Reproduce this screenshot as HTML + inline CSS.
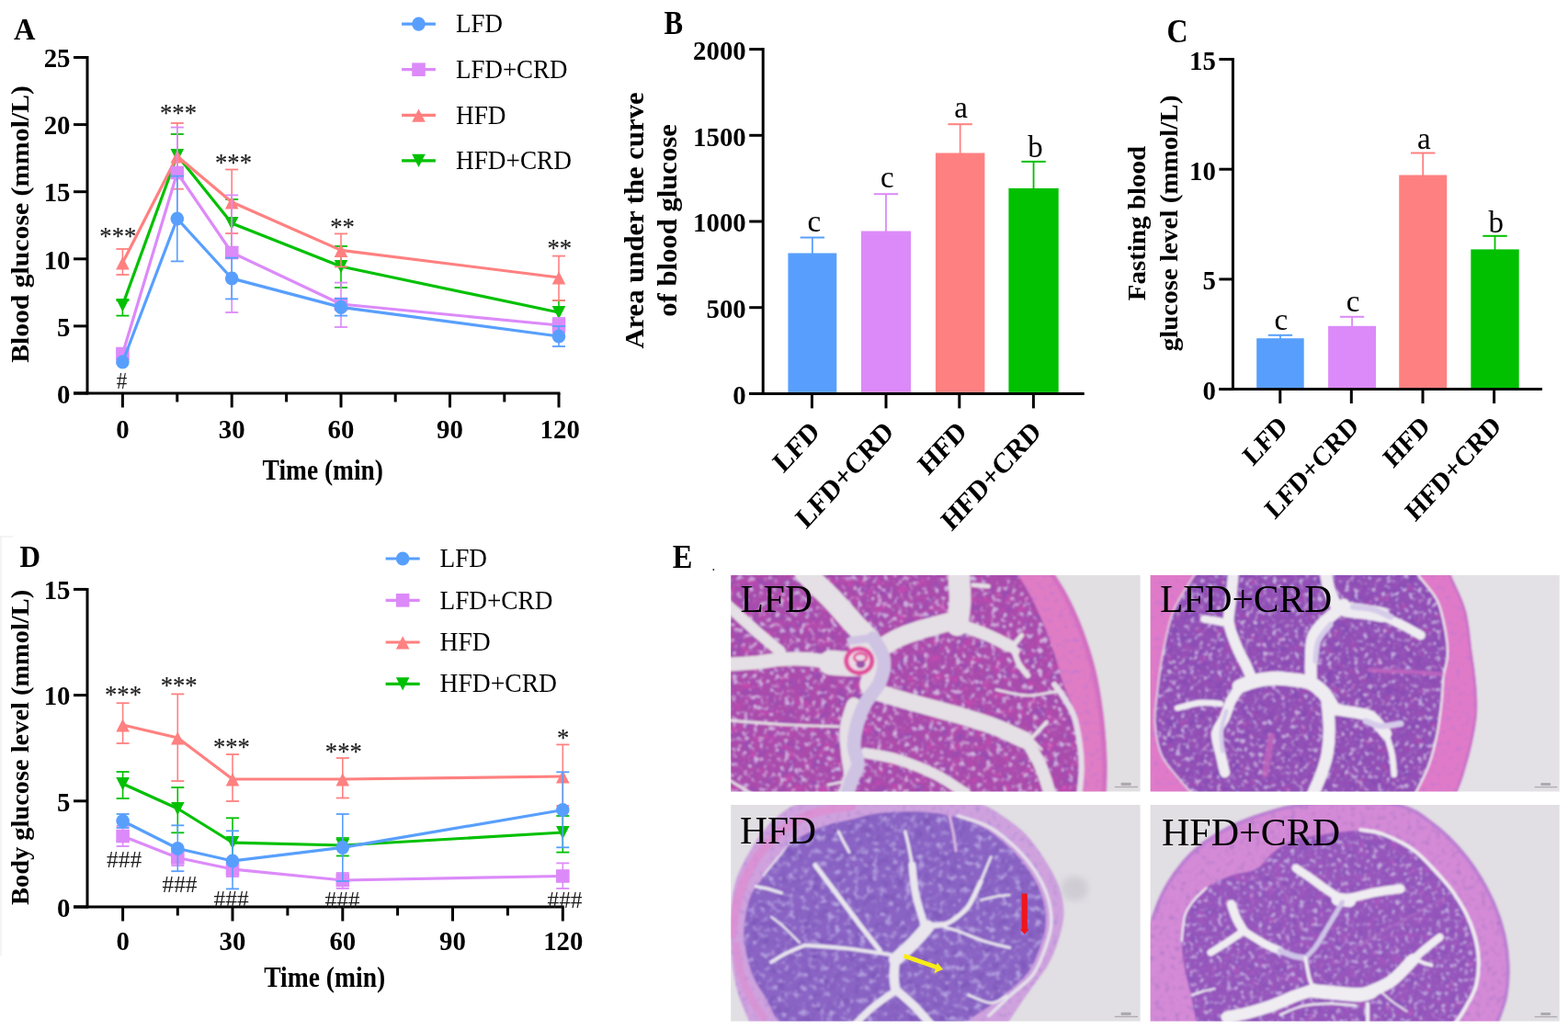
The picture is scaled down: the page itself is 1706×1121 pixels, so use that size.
<!DOCTYPE html>
<html lang="en"><head><meta charset="utf-8"><title>Figure</title>
<style>
html,body{margin:0;padding:0;background:#fff;}
body{width:1706px;height:1121px;overflow:hidden;}
svg{display:block;font-family:"Liberation Serif","Times New Roman",serif;}
</style></head><body>
<svg width="1706" height="1121" viewBox="0 0 1706 1121">
<rect width="1706" height="1121" fill="#fff"/>
<defs>
<filter id="soft" x="-2%" y="-2%" width="104%" height="104%"><feGaussianBlur stdDeviation="3.2"/></filter>
<filter id="soft1"><feGaussianBlur stdDeviation="1.6"/></filter>
<filter id="blur8"><feGaussianBlur stdDeviation="14"/></filter>
<filter id="tex1" x="0" y="0" width="100%" height="100%" color-interpolation-filters="sRGB"><feTurbulence type="fractalNoise" baseFrequency="0.05 0.05" numOctaves="2" seed="3" result="n"/><feColorMatrix in="n" type="matrix" values="0 0 0 0 0.824  0 0 0 0 0.714  0 0 0 0 0.886  5 0 0 0 -2.75" result="sp"/><feComposite in="sp" in2="SourceAlpha" operator="in" result="sp2"/><feTurbulence type="fractalNoise" baseFrequency="0.03" numOctaves="2" seed="8" result="n2"/><feColorMatrix in="n2" type="matrix" values="0 0 0 0 0.557  0 0 0 0 0.298  0 0 0 0 0.706  0 2.5 0 0 -1.25" result="dk"/><feComposite in="dk" in2="SourceAlpha" operator="in" result="dk2"/><feColorMatrix in="n2" type="matrix" values="0 0 0 0 0.808  0 0 0 0 0.282  0 0 0 0 0.690  0 0 3 0 -1.65" result="pk"/><feComposite in="pk" in2="SourceAlpha" operator="in" result="pk2"/><feMerge><feMergeNode in="SourceGraphic"/><feMergeNode in="dk2"/><feMergeNode in="pk2"/><feMergeNode in="sp2"/></feMerge></filter>
<filter id="texp" x="0" y="0" width="100%" height="100%" color-interpolation-filters="sRGB"><feTurbulence type="fractalNoise" baseFrequency="0.05 0.05" numOctaves="2" seed="5" result="n"/><feColorMatrix in="n" type="matrix" values="0 0 0 0 0.784  0 0 0 0 0.471  0 0 0 0 0.816  4 0 0 0 -2.2" result="sp"/><feComposite in="sp" in2="SourceAlpha" operator="in" result="sp2"/><feMerge><feMergeNode in="SourceGraphic"/><feMergeNode in="sp2"/></feMerge></filter>
<filter id="tex2" x="0" y="0" width="100%" height="100%" color-interpolation-filters="sRGB"><feTurbulence type="fractalNoise" baseFrequency="0.055 0.055" numOctaves="2" seed="7" result="n"/><feColorMatrix in="n" type="matrix" values="0 0 0 0 0.800  0 0 0 0 0.714  0 0 0 0 0.894  5 0 0 0 -2.8" result="sp"/><feComposite in="sp" in2="SourceAlpha" operator="in" result="sp2"/><feTurbulence type="fractalNoise" baseFrequency="0.03" numOctaves="2" seed="12" result="n2"/><feColorMatrix in="n2" type="matrix" values="0 0 0 0 0.494  0 0 0 0 0.282  0 0 0 0 0.706  0 2.5 0 0 -1.25" result="dk"/><feComposite in="dk" in2="SourceAlpha" operator="in" result="dk2"/><feColorMatrix in="n2" type="matrix" values="0 0 0 0 0.722  0 0 0 0 0.298  0 0 0 0 0.690  0 0 3 0 -1.8" result="pk"/><feComposite in="pk" in2="SourceAlpha" operator="in" result="pk2"/><feMerge><feMergeNode in="SourceGraphic"/><feMergeNode in="dk2"/><feMergeNode in="pk2"/><feMergeNode in="sp2"/></feMerge></filter>
<filter id="tex3" x="0" y="0" width="100%" height="100%" color-interpolation-filters="sRGB"><feTurbulence type="fractalNoise" baseFrequency="0.04 0.04" numOctaves="2" seed="11" result="n"/><feColorMatrix in="n" type="matrix" values="0 0 0 0 0.706  0 0 0 0 0.627  0 0 0 0 0.878  4 0 0 0 -2.12" result="sp"/><feComposite in="sp" in2="SourceAlpha" operator="in" result="sp2"/><feTurbulence type="fractalNoise" baseFrequency="0.03" numOctaves="2" seed="16" result="n2"/><feColorMatrix in="n2" type="matrix" values="0 0 0 0 0.471  0 0 0 0 0.314  0 0 0 0 0.714  0 2.2 0 0 -1.1" result="dk"/><feComposite in="dk" in2="SourceAlpha" operator="in" result="dk2"/><feMerge><feMergeNode in="SourceGraphic"/><feMergeNode in="dk2"/><feMergeNode in="sp2"/></feMerge></filter>
<filter id="texr3" x="0" y="0" width="100%" height="100%" color-interpolation-filters="sRGB"><feTurbulence type="fractalNoise" baseFrequency="0.05 0.05" numOctaves="2" seed="13" result="n"/><feColorMatrix in="n" type="matrix" values="0 0 0 0 0.722  0 0 0 0 0.565  0 0 0 0 0.847  4 0 0 0 -2.2" result="sp"/><feComposite in="sp" in2="SourceAlpha" operator="in" result="sp2"/><feMerge><feMergeNode in="SourceGraphic"/><feMergeNode in="sp2"/></feMerge></filter>
<filter id="tex4" x="0" y="0" width="100%" height="100%" color-interpolation-filters="sRGB"><feTurbulence type="fractalNoise" baseFrequency="0.055 0.055" numOctaves="2" seed="17" result="n"/><feColorMatrix in="n" type="matrix" values="0 0 0 0 0.769  0 0 0 0 0.682  0 0 0 0 0.886  5 0 0 0 -2.8" result="sp"/><feComposite in="sp" in2="SourceAlpha" operator="in" result="sp2"/><feTurbulence type="fractalNoise" baseFrequency="0.03" numOctaves="2" seed="22" result="n2"/><feColorMatrix in="n2" type="matrix" values="0 0 0 0 0.525  0 0 0 0 0.314  0 0 0 0 0.722  0 2.5 0 0 -1.25" result="dk"/><feComposite in="dk" in2="SourceAlpha" operator="in" result="dk2"/><feColorMatrix in="n2" type="matrix" values="0 0 0 0 0.706  0 0 0 0 0.345  0 0 0 0 0.753  0 0 3 0 -1.74" result="pk"/><feComposite in="pk" in2="SourceAlpha" operator="in" result="pk2"/><feMerge><feMergeNode in="SourceGraphic"/><feMergeNode in="dk2"/><feMergeNode in="pk2"/><feMergeNode in="sp2"/></feMerge></filter>
<filter id="texr4" x="0" y="0" width="100%" height="100%" color-interpolation-filters="sRGB"><feTurbulence type="fractalNoise" baseFrequency="0.05 0.05" numOctaves="2" seed="19" result="n"/><feColorMatrix in="n" type="matrix" values="0 0 0 0 0.706  0 0 0 0 0.486  0 0 0 0 0.800  4 0 0 0 -2.2" result="sp"/><feComposite in="sp" in2="SourceAlpha" operator="in" result="sp2"/><feMerge><feMergeNode in="SourceGraphic"/><feMergeNode in="sp2"/></feMerge></filter>
</defs>
<clipPath id="clip1"><rect x="54" y="57" width="1583" height="836.5"/></clipPath>
<g transform="translate(780 610) scale(0.28136)">
<g clip-path="url(#clip1)"><g filter="url(#soft)">
<rect x="0" y="0" width="1706" height="960" fill="#E2DFE3"/>
<g filter="url(#texp)"><path d="M1290.0 30.0 C1300.3 46.7 1333.7 96.7 1352.0 130.0 C1370.3 163.3 1385.3 195.0 1400.0 230.0 C1414.7 265.0 1428.3 303.3 1440.0 340.0 C1451.7 376.7 1461.3 410.0 1470.0 450.0 C1478.7 490.0 1486.3 538.3 1492.0 580.0 C1497.7 621.7 1501.3 663.3 1504.0 700.0 C1506.7 736.7 1507.8 763.3 1508.0 800.0 C1508.2 836.7 1505.5 900.0 1505.0 920.0 L1408.0 920.0 C1408.8 896.7 1414.3 823.3 1413.0 780.0 C1411.7 736.7 1406.5 696.7 1400.0 660.0 C1393.5 623.3 1384.3 591.7 1374.0 560.0 C1363.7 528.3 1348.3 500.0 1338.0 470.0 C1327.7 440.0 1323.3 415.0 1312.0 380.0 C1300.7 345.0 1286.2 300.0 1270.0 260.0 C1253.8 220.0 1235.0 178.3 1215.0 140.0 C1195.0 101.7 1160.8 48.3 1150.0 30.0 Z" fill="#E07CC4"/></g>
<path d="M1282.0 30.0 C1292.3 46.7 1325.7 96.7 1344.0 130.0 C1362.3 163.3 1377.3 195.0 1392.0 230.0 C1406.7 265.0 1420.3 303.3 1432.0 340.0 C1443.7 376.7 1453.3 410.0 1462.0 450.0 C1470.7 490.0 1478.3 538.3 1484.0 580.0 C1489.7 621.7 1493.3 663.3 1496.0 700.0 C1498.7 736.7 1499.8 763.3 1500.0 800.0 C1500.2 836.7 1497.5 900.0 1497.0 920.0" fill="none" stroke="#D06CC2" stroke-width="19.2" stroke-linecap="butt" stroke-linejoin="round" opacity="0.8"/>
<g filter="url(#tex1)"><path d="M20 20 L1150 20 L1150.0 30.0 C1160.8 48.3 1195.0 101.7 1215.0 140.0 C1235.0 178.3 1253.8 220.0 1270.0 260.0 C1286.2 300.0 1300.7 345.0 1312.0 380.0 C1323.3 415.0 1327.7 440.0 1338.0 470.0 C1348.3 500.0 1363.7 528.3 1374.0 560.0 C1384.3 591.7 1393.5 623.3 1400.0 660.0 C1406.5 696.7 1411.7 736.7 1413.0 780.0 C1414.3 823.3 1408.8 896.7 1408.0 920.0 L20 920 Z" fill="#AA4CAC"/></g>
<path d="M1305.0 480.0 C1310.0 486.7 1322.5 500.0 1335.0 520.0 C1347.5 540.0 1368.8 570.0 1380.0 600.0 C1391.2 630.0 1397.0 666.7 1402.0 700.0 C1407.0 733.3 1410.0 766.7 1410.0 800.0 C1410.0 833.3 1403.3 883.3 1402.0 900.0" fill="none" stroke="#E4DDE8" stroke-width="21.6" stroke-linecap="round" stroke-linejoin="round"/>
<path d="M340.0 30.0 C342.0 34.7 334.5 38.0 352.0 58.0 C369.5 78.0 414.5 118.0 445.0 150.0 C475.5 182.0 510.8 224.2 535.0 250.0 C559.2 275.8 580.8 295.8 590.0 305.0" fill="none" stroke="#E5E0E5" stroke-width="84" stroke-linecap="round" stroke-linejoin="round"/>
<path d="M40.0 172.0 C58.3 188.7 115.8 242.0 150.0 272.0 C184.2 302.0 229.2 338.7 245.0 352.0" fill="none" stroke="#E5E0E5" stroke-width="43.2" stroke-linecap="round" stroke-linejoin="round"/>
<path d="M40.0 402.0 C58.3 400.8 115.0 398.3 150.0 395.0 C185.0 391.7 216.7 384.2 250.0 382.0 C283.3 379.8 316.7 379.8 350.0 382.0 C383.3 384.2 433.3 392.8 450.0 395.0" fill="none" stroke="#E5E0E5" stroke-width="52.8" stroke-linecap="round" stroke-linejoin="round"/>
<path d="M440.0 395.0 C453.3 395.8 493.3 400.8 520.0 400.0 C546.7 399.2 586.7 391.7 600.0 390.0" fill="none" stroke="#E5E0E5" stroke-width="96" stroke-linecap="round" stroke-linejoin="round"/>
<path d="M560.0 330.0 C570.0 341.7 613.3 375.0 620.0 400.0 C626.7 425.0 603.3 466.7 600.0 480.0" fill="none" stroke="#E5E0E5" stroke-width="96" stroke-linecap="round" stroke-linejoin="round"/>
<path d="M640.0 335.0 C650.0 329.2 676.7 310.8 700.0 300.0 C723.3 289.2 743.3 281.3 780.0 270.0 C816.7 258.7 896.7 238.3 920.0 232.0" fill="none" stroke="#E5E0E5" stroke-width="72" stroke-linecap="round" stroke-linejoin="round"/>
<path d="M930.0 250.0 C931.7 235.0 938.7 185.0 940.0 160.0 C941.3 135.0 938.8 121.7 938.0 100.0 C937.2 78.3 935.5 41.7 935.0 30.0" fill="none" stroke="#E5E0E5" stroke-width="84" stroke-linecap="round" stroke-linejoin="round"/>
<path d="M990.0 95.0 L1050.0 100.0" fill="none" stroke="#E5E0E5" stroke-width="16.8" stroke-linecap="round" stroke-linejoin="round"/>
<path d="M950.0 252.0 C966.7 258.3 1020.0 277.0 1050.0 290.0 C1080.0 303.0 1116.7 323.3 1130.0 330.0" fill="none" stroke="#E5E0E5" stroke-width="48" stroke-linecap="round" stroke-linejoin="round"/>
<path d="M1130.0 330.0 L1155.0 350.0" fill="none" stroke="#E5E0E5" stroke-width="33.6" stroke-linecap="round" stroke-linejoin="round"/>
<path d="M1150.0 325.0 L1178.0 290.0" fill="none" stroke="#E5E0E5" stroke-width="19.2" stroke-linecap="round" stroke-linejoin="round"/>
<path d="M1148.0 345.0 C1151.3 354.2 1159.0 383.3 1168.0 400.0 C1177.0 416.7 1196.3 437.5 1202.0 445.0" fill="none" stroke="#E5E0E5" stroke-width="21.6" stroke-linecap="round" stroke-linejoin="round"/>
<path d="M620.0 510.0 C641.7 516.3 695.0 532.5 750.0 548.0 C805.0 563.5 895.8 587.2 950.0 603.0 C1004.2 618.8 1035.0 627.7 1075.0 643.0 C1115.0 658.3 1170.8 686.3 1190.0 695.0" fill="none" stroke="#E5E0E5" stroke-width="64.8" stroke-linecap="round" stroke-linejoin="round"/>
<path d="M1190.0 685.0 C1198.3 699.2 1227.5 745.8 1240.0 770.0 C1252.5 794.2 1256.7 806.7 1265.0 830.0 C1273.3 853.3 1285.8 896.7 1290.0 910.0" fill="none" stroke="#E5E0E5" stroke-width="48" stroke-linecap="round" stroke-linejoin="round"/>
<path d="M1215.0 690.0 L1275.0 625.0" fill="none" stroke="#E5E0E5" stroke-width="14.4" stroke-linecap="round" stroke-linejoin="round"/>
<path d="M1215.0 690.0 L1255.0 730.0" fill="none" stroke="#E5E0E5" stroke-width="10" stroke-linecap="round" stroke-linejoin="round"/>
<path d="M530.0 560.0 C525.8 575.0 508.3 618.3 505.0 650.0 C501.7 681.7 507.5 720.0 510.0 750.0 C512.5 780.0 521.7 805.0 520.0 830.0 C518.3 855.0 503.3 888.3 500.0 900.0" fill="none" stroke="#E5E0E5" stroke-width="60" stroke-linecap="round" stroke-linejoin="round"/>
<path d="M575.0 745.0 C595.8 749.2 654.2 755.8 700.0 770.0 C745.8 784.2 806.7 808.3 850.0 830.0 C893.3 851.7 941.7 888.3 960.0 900.0" fill="none" stroke="#E5E0E5" stroke-width="40.8" stroke-linecap="round" stroke-linejoin="round"/>
<path d="M40.0 618.0 C75.0 620.7 178.3 630.0 250.0 634.0 C321.7 638.0 433.3 640.7 470.0 642.0" fill="none" stroke="#E5E0E5" stroke-width="10" stroke-linecap="round" stroke-linejoin="round"/>
<path d="M1080.0 500.0 C1100.0 503.7 1160.3 521.2 1200.0 522.0 C1239.7 522.8 1298.3 507.8 1318.0 505.0" fill="none" stroke="#E5E0E5" stroke-width="10" stroke-linecap="round" stroke-linejoin="round"/>
<path d="M40.0 845.0 L130.0 900.0" fill="none" stroke="#E5E0E5" stroke-width="10" stroke-linecap="round" stroke-linejoin="round"/>
<path d="M430.0 868.0 L520.0 850.0" fill="none" stroke="#E5E0E5" stroke-width="10" stroke-linecap="round" stroke-linejoin="round"/>
<path d="M605.0 300.0 C611.7 313.3 640.8 351.7 645.0 380.0 C649.2 408.3 641.7 441.7 630.0 470.0 C618.3 498.3 590.0 521.7 575.0 550.0 C560.0 578.3 547.5 611.7 540.0 640.0 C532.5 668.3 529.2 695.0 530.0 720.0 C530.8 745.0 546.7 768.3 545.0 790.0 C543.3 811.7 526.7 831.7 520.0 850.0 C513.3 868.3 507.5 891.7 505.0 900.0" fill="none" stroke="#CFC3E3" stroke-width="52.8" stroke-linecap="round" stroke-linejoin="round"/>
<path d="M520.0 310.0 L600.0 300.0" fill="none" stroke="#CFC3E3" stroke-width="31.2" stroke-linecap="round" stroke-linejoin="round"/>
<ellipse cx="550" cy="388" rx="50" ry="47" fill="#EDD8E6" stroke="#E04C9C" stroke-width="18"/>
<ellipse cx="555" cy="376" rx="24" ry="17" fill="none" stroke="#E0509C" stroke-width="10"/>
<ellipse cx="556" cy="402" rx="18" ry="15" fill="#9C52A8"/>
</g></g>
<rect x="1538" y="873.5" width="90" height="5" fill="#9a969e" opacity="0.7" filter="url(#soft1)"/>
<rect x="1562" y="859.5" width="40" height="11" rx="4" fill="#8a868e" opacity="0.6" filter="url(#soft1)"/>
</g>
<clipPath id="clip2"><rect x="42.5" y="59" width="1629.5" height="861.3"/></clipPath>
<g transform="translate(1240 610) scale(0.27316)">
<g clip-path="url(#clip2)"><g filter="url(#soft)">
<rect x="0" y="0" width="1706" height="960" fill="#E3E1E6"/>
<g filter="url(#texp)"><path d="M1225.0 10.0 C1227.8 18.5 1229.5 29.3 1242.0 61.0 C1254.5 92.7 1286.3 149.7 1300.0 200.0 C1313.7 250.3 1317.3 315.3 1324.0 363.0 C1330.7 410.7 1336.7 445.2 1340.0 486.0 C1343.3 526.8 1346.7 567.2 1344.0 608.0 C1341.3 648.8 1332.8 690.2 1324.0 731.0 C1315.2 771.8 1300.5 821.7 1291.0 853.0 C1281.5 884.3 1273.8 901.2 1267.0 919.0 C1260.2 936.8 1252.8 953.2 1250.0 960.0 L0.0 960.0 L0.0 10.0 Z" fill="#E07AC8"/></g>
<path d="M1219.0 10.0 C1221.8 18.5 1223.5 29.3 1236.0 61.0 C1248.5 92.7 1280.3 149.7 1294.0 200.0 C1307.7 250.3 1311.3 315.3 1318.0 363.0 C1324.7 410.7 1330.7 445.2 1334.0 486.0 C1337.3 526.8 1340.7 567.2 1338.0 608.0 C1335.3 648.8 1326.8 690.2 1318.0 731.0 C1309.2 771.8 1294.5 821.7 1285.0 853.0 C1275.5 884.3 1267.8 901.2 1261.0 919.0 C1254.2 936.8 1246.8 953.2 1244.0 960.0" fill="none" stroke="#C470C8" stroke-width="10" stroke-linecap="butt" stroke-linejoin="round" opacity="0.85"/>
<g filter="url(#tex2)"><path d="M240.0 960.0 C233.3 953.2 216.2 936.8 200.0 919.0 C183.8 901.2 162.0 877.5 143.0 853.0 C124.0 828.5 99.7 806.0 86.0 772.0 C72.3 738.0 63.7 689.8 61.0 649.0 C58.3 608.2 64.5 574.8 70.0 527.0 C75.5 479.2 83.2 416.5 94.0 362.0 C104.8 307.5 114.7 250.2 135.0 200.0 C155.3 149.8 196.8 92.7 216.0 61.0 C235.2 29.3 244.3 18.5 250.0 10.0 L1090.0 10.0 C1093.7 18.5 1096.2 36.2 1112.0 61.0 C1127.8 85.8 1167.3 122.2 1185.0 159.0 C1202.7 195.8 1211.2 245.2 1218.0 282.0 C1224.8 318.8 1227.3 350.2 1226.0 380.0 C1224.7 409.8 1214.0 429.8 1210.0 461.0 C1206.0 492.2 1206.2 528.8 1202.0 567.0 C1197.8 605.2 1193.3 649.0 1185.0 690.0 C1176.7 731.0 1165.7 774.8 1152.0 813.0 C1138.3 851.2 1115.0 894.5 1103.0 919.0 C1091.0 943.5 1083.8 953.2 1080.0 960.0 Z" fill="#9250B6"/></g>
<path d="M1090.0 10.0 C1093.7 18.5 1096.2 36.2 1112.0 61.0 C1127.8 85.8 1167.3 122.2 1185.0 159.0 C1202.7 195.8 1211.2 245.2 1218.0 282.0 C1224.8 318.8 1227.3 350.2 1226.0 380.0 C1224.7 409.8 1214.0 429.8 1210.0 461.0 C1206.0 492.2 1206.2 528.8 1202.0 567.0 C1197.8 605.2 1193.3 649.0 1185.0 690.0 C1176.7 731.0 1165.7 774.8 1152.0 813.0 C1138.3 851.2 1115.0 894.5 1103.0 919.0 C1091.0 943.5 1083.8 953.2 1080.0 960.0" fill="none" stroke="#EFECF1" stroke-width="8" stroke-linecap="butt" stroke-linejoin="round"/>
<path d="M250.0 10.0 C244.3 18.5 235.2 29.3 216.0 61.0 C196.8 92.7 155.3 149.8 135.0 200.0 C114.7 250.2 104.8 307.5 94.0 362.0 C83.2 416.5 75.5 479.2 70.0 527.0 C64.5 574.8 58.3 608.2 61.0 649.0 C63.7 689.8 72.3 738.0 86.0 772.0 C99.7 806.0 124.0 828.5 143.0 853.0 C162.0 877.5 183.8 901.2 200.0 919.0 C216.2 936.8 233.3 953.2 240.0 960.0" fill="none" stroke="#EFECF1" stroke-width="6" stroke-linecap="butt" stroke-linejoin="round" opacity="0.85"/>
<path d="M372.0 40.0 C372.0 43.5 373.5 41.2 372.0 61.0 C370.5 80.8 365.8 127.7 363.0 159.0 C360.2 190.3 350.8 217.7 355.0 249.0 C359.2 280.3 375.8 317.2 388.0 347.0 C400.2 376.8 418.5 407.5 428.0 428.0 C437.5 448.5 442.2 463.0 445.0 470.0" fill="none" stroke="#EFECF1" stroke-width="43.2" stroke-linecap="round" stroke-linejoin="round"/>
<path d="M257.0 233.0 C264.2 234.2 283.7 237.2 300.0 240.0 C316.3 242.8 345.8 248.3 355.0 250.0" fill="none" stroke="#EFECF1" stroke-width="31.2" stroke-linecap="round" stroke-linejoin="round"/>
<path d="M396.0 502.0 C406.7 498.3 438.2 485.3 460.0 480.0 C481.8 474.7 503.7 471.0 527.0 470.0 C550.3 469.0 575.5 471.3 600.0 474.0 C624.5 476.7 652.2 477.2 674.0 486.0 C695.8 494.8 714.7 509.3 731.0 527.0 C747.3 544.7 765.2 581.2 772.0 592.0" fill="none" stroke="#EFECF1" stroke-width="55.2" stroke-linecap="round" stroke-linejoin="round"/>
<path d="M682.0 470.0 C682.0 456.3 680.7 415.3 682.0 388.0 C683.3 360.7 681.8 329.2 690.0 306.0 C698.2 282.8 714.7 266.7 731.0 249.0 C747.3 231.3 774.3 212.2 788.0 200.0 C801.7 187.8 808.8 180.0 813.0 176.0" fill="none" stroke="#EFECF1" stroke-width="48" stroke-linecap="round" stroke-linejoin="round"/>
<path d="M700.0 400.0 C702.0 386.7 702.0 344.2 712.0 320.0 C722.0 295.8 752.0 265.8 760.0 255.0" fill="none" stroke="#D6CCEA" stroke-width="21.6" stroke-linecap="round" stroke-linejoin="round"/>
<path d="M788.0 192.0 C782.5 179.7 763.2 143.3 755.0 118.0 C746.8 92.7 741.7 53.0 739.0 40.0" fill="none" stroke="#EFECF1" stroke-width="48" stroke-linecap="round" stroke-linejoin="round"/>
<path d="M820.0 195.0 C833.3 196.7 875.8 201.5 900.0 205.0 C924.2 208.5 954.2 214.2 965.0 216.0" fill="none" stroke="#EFECF1" stroke-width="60" stroke-linecap="round" stroke-linejoin="round"/>
<path d="M965.0 220.0 C978.5 226.3 1020.2 245.0 1046.0 258.0 C1071.8 271.0 1107.7 291.3 1120.0 298.0" fill="none" stroke="#EFECF1" stroke-width="36" stroke-linecap="round" stroke-linejoin="round"/>
<path d="M850.0 185.0 C863.3 186.7 905.0 188.3 930.0 195.0 C955.0 201.7 988.3 220.0 1000.0 225.0" fill="none" stroke="#D6CCEA" stroke-width="24" stroke-linecap="round" stroke-linejoin="round"/>
<path d="M396.0 510.0 C390.5 518.3 372.5 540.8 363.0 560.0 C353.5 579.2 348.5 603.3 339.0 625.0 C329.5 646.7 308.8 665.5 306.0 690.0 C303.2 714.5 316.5 746.2 322.0 772.0 C327.5 797.8 336.2 832.8 339.0 845.0" fill="none" stroke="#EFECF1" stroke-width="40.8" stroke-linecap="round" stroke-linejoin="round"/>
<path d="M345.0 600.0 C341.7 613.3 327.5 653.3 325.0 680.0 C322.5 706.7 329.2 746.7 330.0 760.0" fill="none" stroke="#D6CCEA" stroke-width="16.8" stroke-linecap="round" stroke-linejoin="round"/>
<path d="M151.0 588.0 C166.0 584.5 212.5 569.8 241.0 567.0 C269.5 564.2 308.5 570.3 322.0 571.0" fill="none" stroke="#EFECF1" stroke-width="24" stroke-linecap="round" stroke-linejoin="round"/>
<path d="M747.0 567.0 C748.3 584.8 755.0 639.8 755.0 674.0 C755.0 708.2 752.3 742.2 747.0 772.0 C741.7 801.8 732.5 826.7 723.0 853.0 C713.5 879.3 695.5 917.2 690.0 930.0" fill="none" stroke="#EFECF1" stroke-width="48" stroke-linecap="round" stroke-linejoin="round"/>
<path d="M772.0 592.0 C781.7 593.7 812.2 599.0 830.0 602.0 C847.8 605.0 863.3 606.2 879.0 610.0 C894.7 613.8 907.0 611.7 924.0 625.0 C941.0 638.3 971.5 679.2 981.0 690.0" fill="none" stroke="#EFECF1" stroke-width="45.6" stroke-linecap="round" stroke-linejoin="round"/>
<path d="M981.0 690.0 C985.0 703.7 999.7 744.8 1005.0 772.0 C1010.3 799.2 1011.7 839.5 1013.0 853.0" fill="none" stroke="#EFECF1" stroke-width="24" stroke-linecap="round" stroke-linejoin="round"/>
<path d="M900.0 640.0 C910.0 643.3 936.7 658.3 960.0 660.0 C983.3 661.7 1026.7 651.7 1040.0 650.0" fill="none" stroke="#D6CCEA" stroke-width="24" stroke-linecap="round" stroke-linejoin="round"/>
<path d="M915.0 437.0 C943.7 438.3 1039.2 442.3 1087.0 445.0 C1134.8 447.7 1182.8 451.7 1202.0 453.0" fill="none" stroke="#C468C0" stroke-width="16.8" stroke-linecap="round" stroke-linejoin="round" opacity="0.8"/>
<path d="M525.0 700.0 C523.3 710.0 519.2 735.0 515.0 760.0 C510.8 785.0 502.5 835.0 500.0 850.0" fill="none" stroke="#C468BC" stroke-width="26.4" stroke-linecap="round" stroke-linejoin="round" opacity="0.75"/>
</g></g>
<rect x="1573" y="900.3" width="90" height="5" fill="#9a969e" opacity="0.7" filter="url(#soft1)"/>
<rect x="1597" y="886.3" width="40" height="11" rx="4" fill="#8a868e" opacity="0.6" filter="url(#soft1)"/>
</g>
<clipPath id="clip3"><rect x="54" y="57" width="1583" height="836.5"/></clipPath>
<g transform="translate(780 860) scale(0.28136)">
<g clip-path="url(#clip3)"><g filter="url(#soft)">
<rect x="0" y="0" width="1706" height="960" fill="#E1DFE3"/>
<ellipse cx="1383" cy="380" rx="52" ry="48" fill="#CFCDD4" filter="url(#blur8)"/>
<g filter="url(#texr3)"><path d="M150.0 940.0 C145.5 931.8 134.2 915.8 123.0 891.0 C111.8 866.2 93.7 827.5 83.0 791.0 C72.3 754.5 64.2 718.3 59.0 672.0 C53.8 625.7 50.7 563.3 52.0 513.0 C53.3 462.7 56.5 412.5 67.0 370.0 C77.5 327.5 93.7 296.5 115.0 258.0 C136.3 219.5 164.5 172.2 195.0 139.0 C225.5 105.8 260.5 77.2 298.0 59.0 C335.5 40.8 353.0 35.7 420.0 30.0 C487.0 24.3 611.7 24.2 700.0 25.0 C788.3 25.8 894.0 29.3 950.0 35.0 C1006.0 40.7 1008.3 47.0 1036.0 59.0 C1063.7 71.0 1089.5 88.3 1116.0 107.0 C1142.5 125.7 1169.8 144.3 1195.0 171.0 C1220.2 197.7 1245.8 233.8 1267.0 267.0 C1288.2 300.2 1309.5 335.7 1322.0 370.0 C1334.5 404.3 1342.0 438.5 1342.0 473.0 C1342.0 507.5 1331.8 543.8 1322.0 577.0 C1312.2 610.2 1298.8 642.8 1283.0 672.0 C1267.2 701.2 1245.7 725.3 1227.0 752.0 C1208.3 778.7 1186.8 808.8 1171.0 832.0 C1155.2 855.2 1143.8 873.0 1132.0 891.0 C1120.2 909.0 1105.3 931.8 1100.0 940.0 Z" fill="#CFA2DE"/></g>
<path d="M60.0 560.0 C62.5 541.7 66.7 486.7 75.0 450.0 C83.3 413.3 94.2 375.0 110.0 340.0 C125.8 305.0 145.0 271.7 170.0 240.0 C195.0 208.3 226.7 175.0 260.0 150.0 C293.3 125.0 326.7 104.7 370.0 90.0 C413.3 75.3 495.0 66.7 520.0 62.0" fill="none" stroke="#DE8CD0" stroke-width="34.68" stroke-linecap="round" stroke-linejoin="round" opacity="0.75"/>
<path d="M75.0 600.0 C77.5 616.7 80.8 666.7 90.0 700.0 C99.2 733.3 115.0 770.0 130.0 800.0 C145.0 830.0 171.7 866.7 180.0 880.0" fill="none" stroke="#DC90D2" stroke-width="30.6" stroke-linecap="round" stroke-linejoin="round" opacity="0.7"/>
<path d="M933.0 100.0 C952.8 107.0 1015.0 121.7 1052.0 142.0 C1089.0 162.3 1125.3 193.7 1155.0 222.0 C1184.7 250.3 1209.5 280.7 1230.0 312.0 C1250.5 343.3 1267.5 376.5 1278.0 410.0 C1288.5 443.5 1294.3 479.7 1293.0 513.0 C1291.7 546.3 1281.8 576.5 1270.0 610.0 C1258.2 643.5 1244.7 683.3 1222.0 714.0 C1199.3 744.7 1162.3 767.7 1134.0 794.0 C1105.7 820.3 1065.7 859.0 1052.0 872.0" fill="none" stroke="#E6E2EC" stroke-width="12.24" stroke-linecap="round" stroke-linejoin="round"/>
<path d="M112.0 600.0 C118.3 621.7 132.8 690.8 150.0 730.0 C167.2 769.2 204.2 817.5 215.0 835.0" fill="none" stroke="#E9E6EE" stroke-width="8" stroke-linecap="round" stroke-linejoin="round"/>
<path d="M180.0 330.0 C191.7 315.8 230.0 268.3 250.0 245.0 C270.0 221.7 291.7 199.2 300.0 190.0" fill="none" stroke="#E9E6EE" stroke-width="8" stroke-linecap="round" stroke-linejoin="round"/>
<g filter="url(#tex3)"><path d="M290.0 940.0 C280.7 931.8 249.8 911.8 234.0 891.0 C218.2 870.2 210.7 843.5 195.0 815.0 C179.3 786.5 154.5 755.8 140.0 720.0 C125.5 684.2 113.5 634.5 108.0 600.0 C102.5 565.5 103.3 544.7 107.0 513.0 C110.7 481.3 118.0 439.2 130.0 410.0 C142.0 380.8 159.0 364.7 179.0 338.0 C199.0 311.3 230.2 273.8 250.0 250.0 C269.8 226.2 270.2 213.5 298.0 195.0 C325.8 176.5 381.2 152.3 417.0 139.0 C452.8 125.7 477.2 123.5 513.0 115.0 C548.8 106.5 584.2 93.2 632.0 88.0 C679.8 82.8 749.8 80.8 800.0 84.0 C850.2 87.2 893.0 96.0 933.0 107.0 C973.0 118.0 1005.5 129.5 1040.0 150.0 C1074.5 170.5 1111.3 202.0 1140.0 230.0 C1168.7 258.0 1192.3 287.7 1212.0 318.0 C1231.7 348.3 1248.0 379.5 1258.0 412.0 C1268.0 444.5 1273.3 480.7 1272.0 513.0 C1270.7 545.3 1261.3 574.0 1250.0 606.0 C1238.7 638.0 1225.7 675.2 1204.0 705.0 C1182.3 734.8 1147.3 761.7 1120.0 785.0 C1092.7 808.3 1066.7 825.8 1040.0 845.0 C1013.3 864.2 978.3 884.2 960.0 900.0 C941.7 915.8 935.0 933.3 930.0 940.0 Z" fill="#8A64C4"/></g>
<path d="M690.0 655.0 C701.7 644.2 739.2 611.2 760.0 590.0 C780.8 568.8 805.8 538.3 815.0 528.0" fill="none" stroke="#E9E6EE" stroke-width="51" stroke-linecap="round" stroke-linejoin="round"/>
<path d="M815.0 528.0 C820.8 527.0 839.2 523.3 850.0 522.0 C860.8 520.7 875.0 520.3 880.0 520.0" fill="none" stroke="#E9E6EE" stroke-width="22.44" stroke-linecap="round" stroke-linejoin="round"/>
<path d="M800.0 515.0 C794.7 495.8 775.5 437.5 768.0 400.0 C760.5 362.5 757.2 308.3 755.0 290.0" fill="none" stroke="#E9E6EE" stroke-width="28.56" stroke-linecap="round" stroke-linejoin="round"/>
<path d="M755.0 290.0 C752.8 278.3 746.5 241.7 742.0 220.0 C737.5 198.3 730.3 170.0 728.0 160.0" fill="none" stroke="#E9E6EE" stroke-width="12.24" stroke-linecap="round" stroke-linejoin="round"/>
<path d="M630.0 620.0 C618.3 605.0 581.7 558.3 560.0 530.0 C538.3 501.7 520.0 476.7 500.0 450.0 C480.0 423.3 460.0 396.7 440.0 370.0 C420.0 343.3 390.0 303.3 380.0 290.0" fill="none" stroke="#E9E6EE" stroke-width="18.36" stroke-linecap="round" stroke-linejoin="round"/>
<path d="M670.0 636.0 C641.7 632.0 555.0 618.0 500.0 612.0 C445.0 606.0 366.7 602.0 340.0 600.0" fill="none" stroke="#E9E6EE" stroke-width="14.28" stroke-linecap="round" stroke-linejoin="round"/>
<path d="M340.0 600.0 C328.3 605.0 291.7 619.2 270.0 630.0 C248.3 640.8 220.0 659.2 210.0 665.0" fill="none" stroke="#E9E6EE" stroke-width="14.28" stroke-linecap="round" stroke-linejoin="round"/>
<path d="M880.0 520.0 C886.2 516.7 901.7 511.7 917.0 500.0 C932.3 488.3 954.8 474.3 972.0 450.0 C989.2 425.7 1012.0 370.0 1020.0 354.0" fill="none" stroke="#E9E6EE" stroke-width="18.36" stroke-linecap="round" stroke-linejoin="round"/>
<path d="M1020.0 354.0 C1023.7 345.0 1035.3 316.0 1042.0 300.0 C1048.7 284.0 1057.0 265.0 1060.0 258.0" fill="none" stroke="#E9E6EE" stroke-width="10" stroke-linecap="round" stroke-linejoin="round"/>
<path d="M1020.0 425.0 C1029.2 422.8 1056.3 415.3 1075.0 412.0 C1093.7 408.7 1122.5 406.2 1132.0 405.0" fill="none" stroke="#E9E6EE" stroke-width="9" stroke-linecap="round" stroke-linejoin="round"/>
<path d="M880.0 530.0 C888.8 532.5 907.0 535.8 933.0 545.0 C959.0 554.2 1002.8 574.3 1036.0 585.0 C1069.2 595.7 1116.0 605.0 1132.0 609.0" fill="none" stroke="#E9E6EE" stroke-width="11" stroke-linecap="round" stroke-linejoin="round"/>
<path d="M690.0 650.0 C689.2 661.7 685.0 700.0 685.0 720.0 C685.0 740.0 689.2 761.7 690.0 770.0" fill="none" stroke="#E9E6EE" stroke-width="36.72" stroke-linecap="round" stroke-linejoin="round"/>
<path d="M690.0 770.0 C701.7 780.3 736.7 808.7 760.0 832.0 C783.3 855.3 818.3 897.0 830.0 910.0" fill="none" stroke="#E9E6EE" stroke-width="32.64" stroke-linecap="round" stroke-linejoin="round"/>
<path d="M685.0 780.0 C670.8 790.3 625.8 820.3 600.0 842.0 C574.2 863.7 541.7 898.7 530.0 910.0" fill="none" stroke="#E9E6EE" stroke-width="26.52" stroke-linecap="round" stroke-linejoin="round"/>
<path d="M150.0 372.0 C158.3 373.7 183.3 377.7 200.0 382.0 C216.7 386.3 241.7 395.3 250.0 398.0" fill="none" stroke="#E9E6EE" stroke-width="12.24" stroke-linecap="round" stroke-linejoin="round"/>
<path d="M210.0 490.0 C218.3 496.7 241.7 513.3 260.0 530.0 C278.3 546.7 310.0 580.0 320.0 590.0" fill="none" stroke="#E9E6EE" stroke-width="8" stroke-linecap="round" stroke-linejoin="round"/>
<path d="M470.0 160.0 C473.3 166.7 483.0 186.7 490.0 200.0 C497.0 213.3 508.3 233.3 512.0 240.0" fill="none" stroke="#E9E6EE" stroke-width="11" stroke-linecap="round" stroke-linejoin="round"/>
<path d="M900.0 100.0 C902.5 111.7 911.0 147.5 915.0 170.0 C919.0 192.5 922.5 224.2 924.0 235.0" fill="none" stroke="#DDB8E2" stroke-width="10" stroke-linecap="round" stroke-linejoin="round"/>
<path d="M972.0 792.0 C986.7 797.2 1035.3 822.5 1060.0 823.0 C1084.7 823.5 1110.0 799.7 1120.0 795.0" fill="none" stroke="#E9E6EE" stroke-width="10" stroke-linecap="round" stroke-linejoin="round"/>
</g><g filter="url(#soft1)"><path d="M1189.5 400 V542" stroke="#F0141C" stroke-width="22" fill="none"/><path d="M1172 538 L1207 538 L1189.5 557 Z" fill="#F0141C"/><path d="M723 641 L852 686" stroke="#F8EC18" stroke-width="17" fill="none"/><path d="M852 666 L874 693 L840 708 Z" fill="#F8EC18"/></g></g>
<rect x="1538" y="873.5" width="90" height="5" fill="#9a969e" opacity="0.7" filter="url(#soft1)"/>
<rect x="1562" y="859.5" width="40" height="11" rx="4" fill="#8a868e" opacity="0.6" filter="url(#soft1)"/>
</g>
<clipPath id="clip4"><rect x="42.5" y="58.6" width="1629.5" height="861.7"/></clipPath>
<g transform="translate(1240 860) scale(0.27316)">
<g clip-path="url(#clip4)"><g filter="url(#soft)">
<rect x="0" y="0" width="1706" height="960" fill="#E1DFE3"/>
<g filter="url(#texr4)"><path d="M20.0 600.0 C24.0 585.3 33.0 544.3 44.0 512.0 C55.0 479.7 69.5 438.8 86.0 406.0 C102.5 373.2 121.3 343.8 143.0 315.0 C164.7 286.2 188.7 257.5 216.0 233.0 C243.3 208.5 275.3 187.0 307.0 168.0 C338.7 149.0 369.3 134.0 406.0 119.0 C442.7 104.0 492.8 88.2 527.0 78.0 C561.2 67.8 562.2 65.2 611.0 58.0 C659.8 50.8 747.3 35.0 820.0 35.0 C892.7 35.0 988.7 42.7 1047.0 58.0 C1105.3 73.3 1133.2 100.5 1170.0 127.0 C1206.8 153.5 1238.0 184.2 1268.0 217.0 C1298.0 249.8 1325.3 285.7 1350.0 324.0 C1374.7 362.3 1398.2 406.0 1416.0 447.0 C1433.8 488.0 1447.5 529.0 1457.0 570.0 C1466.5 611.0 1471.7 652.0 1473.0 693.0 C1474.3 734.0 1471.8 778.5 1465.0 816.0 C1458.2 853.5 1439.5 894.0 1432.0 918.0 C1424.5 942.0 1422.0 953.0 1420.0 960.0 L20.0 960.0 Z" fill="#D48AD6"/></g>
<path d="M50.0 517.0 C57.0 499.3 75.5 443.8 92.0 411.0 C108.5 378.2 127.3 348.8 149.0 320.0 C170.7 291.2 194.7 262.5 222.0 238.0 C249.3 213.5 281.3 192.0 313.0 173.0 C344.7 154.0 375.3 139.0 412.0 124.0 C448.7 109.0 498.8 93.2 533.0 83.0 C567.2 72.8 570.2 70.2 617.0 63.0 C663.8 55.8 743.3 40.0 814.0 40.0 C884.7 40.0 982.7 47.7 1041.0 63.0 C1099.3 78.3 1127.2 105.5 1164.0 132.0 C1200.8 158.5 1232.0 189.2 1262.0 222.0 C1292.0 254.8 1319.3 290.7 1344.0 329.0 C1368.7 367.3 1392.2 411.0 1410.0 452.0 C1427.8 493.0 1441.5 534.0 1451.0 575.0 C1460.5 616.0 1465.7 657.0 1467.0 698.0 C1468.3 739.0 1465.8 783.5 1459.0 821.0 C1452.2 858.5 1431.5 906.0 1426.0 923.0" fill="none" stroke="#B67CD2" stroke-width="14.4" stroke-linecap="butt" stroke-linejoin="round" opacity="0.8"/>
<g filter="url(#tex4)"><path d="M235.0 960.0 C233.3 953.0 230.8 944.8 225.0 918.0 C219.2 891.2 208.2 836.5 200.0 799.0 C191.8 761.5 181.3 731.2 176.0 693.0 C170.7 654.8 164.0 608.3 168.0 570.0 C172.0 531.7 183.7 493.2 200.0 463.0 C216.3 432.8 238.5 409.5 266.0 389.0 C293.5 368.5 332.2 352.3 365.0 340.0 C397.8 327.7 435.7 330.0 463.0 315.0 C490.3 300.0 504.3 269.2 529.0 250.0 C553.7 230.8 576.8 212.3 611.0 200.0 C645.2 187.7 689.3 182.7 734.0 176.0 C778.7 169.3 840.5 160.0 879.0 160.0 C917.5 160.0 930.2 162.3 965.0 176.0 C999.8 189.7 1051.2 214.7 1088.0 242.0 C1124.8 269.3 1158.7 310.0 1186.0 340.0 C1213.3 370.0 1231.3 390.5 1252.0 422.0 C1272.7 453.5 1295.0 490.7 1310.0 529.0 C1325.0 567.3 1338.0 611.0 1342.0 652.0 C1346.0 693.0 1343.5 738.2 1334.0 775.0 C1324.5 811.8 1298.7 849.2 1285.0 873.0 C1271.3 896.8 1261.2 903.5 1252.0 918.0 C1242.8 932.5 1233.7 953.0 1230.0 960.0 Z" fill="#9656BC"/></g>
<path d="M879.0 158.0 C893.3 160.7 929.8 160.7 965.0 174.0 C1000.2 187.3 1052.5 211.0 1090.0 238.0 C1127.5 265.0 1162.0 305.7 1190.0 336.0 C1218.0 366.3 1237.0 388.2 1258.0 420.0 C1279.0 451.8 1301.0 488.3 1316.0 527.0 C1331.0 565.7 1344.0 610.3 1348.0 652.0 C1352.0 693.7 1349.3 739.7 1340.0 777.0 C1330.7 814.3 1305.3 851.3 1292.0 876.0 C1278.7 900.7 1265.3 916.8 1260.0 925.0" fill="none" stroke="#F0EDF2" stroke-width="14.4" stroke-linecap="round" stroke-linejoin="round"/>
<path d="M168.0 600.0 C170.0 583.3 172.2 526.7 180.0 500.0 C187.8 473.3 200.7 458.5 215.0 440.0 C229.3 421.5 257.5 397.5 266.0 389.0" fill="none" stroke="#F0EDF2" stroke-width="8" stroke-linecap="round" stroke-linejoin="round"/>
<path d="M623.0 311.0 C632.5 317.5 661.5 337.0 680.0 350.0 C698.5 363.0 712.8 374.3 734.0 389.0 C755.2 403.7 794.8 429.8 807.0 438.0" fill="none" stroke="#F0EDF2" stroke-width="33.6" stroke-linecap="round" stroke-linejoin="round"/>
<path d="M1039.0 393.0 C1024.2 395.0 976.5 400.5 950.0 405.0 C923.5 409.5 903.8 414.5 880.0 420.0 C856.2 425.5 819.2 435.0 807.0 438.0" fill="none" stroke="#F0EDF2" stroke-width="36" stroke-linecap="round" stroke-linejoin="round"/>
<path d="M790.0 435.0 L835.0 440.0" fill="none" stroke="#F0EDF2" stroke-width="52.8" stroke-linecap="round" stroke-linejoin="round"/>
<path d="M807.0 447.0 C800.8 457.5 782.2 489.5 770.0 510.0 C757.8 530.5 745.7 550.8 734.0 570.0 C722.3 589.2 712.3 608.7 700.0 625.0 C687.7 641.3 666.7 660.8 660.0 668.0" fill="none" stroke="#CFC4E8" stroke-width="19.2" stroke-linecap="round" stroke-linejoin="round"/>
<path d="M365.0 455.0 C368.3 464.2 376.8 492.3 385.0 510.0 C393.2 527.7 409.2 552.5 414.0 561.0" fill="none" stroke="#F0EDF2" stroke-width="36" stroke-linecap="round" stroke-linejoin="round"/>
<path d="M283.0 647.0 C294.2 640.0 328.2 619.3 350.0 605.0 C371.8 590.7 403.3 568.3 414.0 561.0" fill="none" stroke="#F0EDF2" stroke-width="28.8" stroke-linecap="round" stroke-linejoin="round"/>
<path d="M414.0 561.0 C427.7 569.3 471.7 597.8 496.0 611.0 C520.3 624.2 549.3 635.2 560.0 640.0" fill="none" stroke="#F0EDF2" stroke-width="31.2" stroke-linecap="round" stroke-linejoin="round"/>
<path d="M560.0 640.0 C568.5 643.3 594.3 655.3 611.0 660.0 C627.7 664.7 651.8 666.7 660.0 668.0" fill="none" stroke="#CFC4E8" stroke-width="24" stroke-linecap="round" stroke-linejoin="round"/>
<path d="M660.0 668.0 C662.7 681.7 670.5 729.5 676.0 750.0 C681.5 770.5 690.2 784.2 693.0 791.0" fill="none" stroke="#F0EDF2" stroke-width="14.4" stroke-linecap="round" stroke-linejoin="round"/>
<path d="M348.0 905.0 C363.3 901.7 409.8 893.0 440.0 885.0 C470.2 877.0 499.0 867.8 529.0 857.0 C559.0 846.2 592.7 830.3 620.0 820.0 C647.3 809.7 680.8 799.2 693.0 795.0" fill="none" stroke="#F0EDF2" stroke-width="48" stroke-linecap="round" stroke-linejoin="round"/>
<path d="M693.0 800.0 C707.5 801.3 749.0 805.5 780.0 808.0 C811.0 810.5 855.0 815.8 879.0 815.0 C903.0 814.2 916.5 805.0 924.0 803.0" fill="none" stroke="#F0EDF2" stroke-width="55.2" stroke-linecap="round" stroke-linejoin="round"/>
<path d="M924.0 800.0 C937.7 793.0 978.7 778.7 1006.0 758.0 C1033.3 737.3 1074.3 689.7 1088.0 676.0" fill="none" stroke="#F0EDF2" stroke-width="48" stroke-linecap="round" stroke-linejoin="round"/>
<path d="M1088.0 676.0 C1096.7 668.3 1122.2 645.0 1140.0 630.0 C1157.8 615.0 1185.8 593.3 1195.0 586.0" fill="none" stroke="#F0EDF2" stroke-width="31.2" stroke-linecap="round" stroke-linejoin="round"/>
<path d="M1104.0 676.0 C1108.3 678.0 1120.3 684.5 1130.0 688.0 C1139.7 691.5 1156.7 695.5 1162.0 697.0" fill="none" stroke="#F0EDF2" stroke-width="14.4" stroke-linecap="round" stroke-linejoin="round"/>
<path d="M908.0 850.0 L908.0 930.0" fill="none" stroke="#F0EDF2" stroke-width="14.4" stroke-linecap="round" stroke-linejoin="round"/>
<path d="M965.0 807.0 C972.5 813.3 993.5 832.7 1010.0 845.0 C1026.5 857.3 1055.0 875.0 1064.0 881.0" fill="none" stroke="#F0EDF2" stroke-width="7" stroke-linecap="round" stroke-linejoin="round"/>
<path d="M560.0 895.0 C575.0 889.2 616.7 867.5 650.0 860.0 C683.3 852.5 725.0 850.3 760.0 850.0 C795.0 849.7 843.3 856.7 860.0 858.0" fill="none" stroke="#F0EDF2" stroke-width="9" stroke-linecap="round" stroke-linejoin="round"/>
<path d="M209.0 816.0 C215.8 813.7 235.0 806.2 250.0 802.0 C265.0 797.8 290.8 792.8 299.0 791.0" fill="none" stroke="#F0EDF2" stroke-width="8" stroke-linecap="round" stroke-linejoin="round"/>
<path d="M842.0 635.0 C868.3 620.0 938.5 579.2 1000.0 545.0 C1061.5 510.8 1175.8 449.2 1211.0 430.0" fill="none" stroke="#B070C4" stroke-width="10" stroke-linecap="round" stroke-linejoin="round" opacity="0.55"/>
<path d="M529.0 330.0 C540.8 350.0 579.8 411.7 600.0 450.0 C620.2 488.3 641.7 541.7 650.0 560.0" fill="none" stroke="#B070C4" stroke-width="8" stroke-linecap="round" stroke-linejoin="round" opacity="0.5"/>
</g></g>
<rect x="1573" y="900.3" width="90" height="5" fill="#9a969e" opacity="0.7" filter="url(#soft1)"/>
<rect x="1597" y="886.3" width="40" height="11" rx="4" fill="#8a868e" opacity="0.6" filter="url(#soft1)"/>
</g>
<g font-size="41.5" fill="#000">
<text x="805.5" y="666.4">LFD</text>
<text x="1262" y="666">LFD+CRD</text>
<text x="805" y="917.7">HFD</text>
<text x="1264" y="920.1" font-size="42">HFD+CRD</text>
</g>
<line x1="95.00" y1="60.90" x2="95.00" y2="429.50" stroke="#000" stroke-width="3" stroke-linecap="butt"/>
<line x1="80.00" y1="428.00" x2="609.50" y2="428.00" stroke="#000" stroke-width="3" stroke-linecap="butt"/>
<line x1="80.00" y1="428.00" x2="95.00" y2="428.00" stroke="#000" stroke-width="3" stroke-linecap="butt"/>
<text transform="translate(76.50 438.70)" font-size="28.8" font-weight="bold" text-anchor="end" fill="#000">0</text>
<line x1="80.00" y1="354.90" x2="95.00" y2="354.90" stroke="#000" stroke-width="3" stroke-linecap="butt"/>
<text transform="translate(76.50 365.60)" font-size="28.8" font-weight="bold" text-anchor="end" fill="#000">5</text>
<line x1="80.00" y1="281.80" x2="95.00" y2="281.80" stroke="#000" stroke-width="3" stroke-linecap="butt"/>
<text transform="translate(76.50 292.50)" font-size="28.8" font-weight="bold" text-anchor="end" fill="#000">10</text>
<line x1="80.00" y1="208.70" x2="95.00" y2="208.70" stroke="#000" stroke-width="3" stroke-linecap="butt"/>
<text transform="translate(76.50 219.40)" font-size="28.8" font-weight="bold" text-anchor="end" fill="#000">15</text>
<line x1="80.00" y1="135.60" x2="95.00" y2="135.60" stroke="#000" stroke-width="3" stroke-linecap="butt"/>
<text transform="translate(76.50 146.30)" font-size="28.8" font-weight="bold" text-anchor="end" fill="#000">20</text>
<line x1="80.00" y1="62.50" x2="95.00" y2="62.50" stroke="#000" stroke-width="3" stroke-linecap="butt"/>
<text transform="translate(76.50 73.20)" font-size="28.8" font-weight="bold" text-anchor="end" fill="#000">25</text>
<line x1="133.40" y1="428.00" x2="133.40" y2="443.50" stroke="#000" stroke-width="3" stroke-linecap="butt"/>
<text transform="translate(133.40 477.40)" font-size="28.8" font-weight="bold" text-anchor="middle" fill="#000">0</text>
<line x1="252.20" y1="428.00" x2="252.20" y2="443.50" stroke="#000" stroke-width="3" stroke-linecap="butt"/>
<text transform="translate(252.20 477.40)" font-size="28.8" font-weight="bold" text-anchor="middle" fill="#000">30</text>
<line x1="371.00" y1="428.00" x2="371.00" y2="443.50" stroke="#000" stroke-width="3" stroke-linecap="butt"/>
<text transform="translate(371.00 477.40)" font-size="28.8" font-weight="bold" text-anchor="middle" fill="#000">60</text>
<line x1="489.50" y1="428.00" x2="489.50" y2="443.50" stroke="#000" stroke-width="3" stroke-linecap="butt"/>
<text transform="translate(489.50 477.40)" font-size="28.8" font-weight="bold" text-anchor="middle" fill="#000">90</text>
<line x1="608.00" y1="428.00" x2="608.00" y2="443.50" stroke="#000" stroke-width="3" stroke-linecap="butt"/>
<text transform="translate(609.20 477.40)" font-size="28.8" font-weight="bold" text-anchor="middle" fill="#000">120</text>
<line x1="192.80" y1="428.00" x2="192.80" y2="437.50" stroke="#000" stroke-width="3" stroke-linecap="butt"/>
<line x1="311.60" y1="428.00" x2="311.60" y2="437.50" stroke="#000" stroke-width="3" stroke-linecap="butt"/>
<line x1="430.20" y1="428.00" x2="430.20" y2="437.50" stroke="#000" stroke-width="3" stroke-linecap="butt"/>
<line x1="548.80" y1="428.00" x2="548.80" y2="437.50" stroke="#000" stroke-width="3" stroke-linecap="butt"/>
<text transform="translate(351.30 521.60) scale(0.9639 1.0800)" font-size="28.5" font-weight="bold" text-anchor="middle" fill="#000">Time (min)</text>
<text transform="translate(31.00 244.00) rotate(-90) scale(1.0000 0.9300)" font-size="29.7" font-weight="bold" text-anchor="middle" fill="#000">Blood glucose (mmol/L)</text>
<text transform="translate(15.00 42.60) scale(0.9571 1.0000)" font-size="34" font-weight="bold" text-anchor="start" fill="#000">A</text>
<line x1="133.40" y1="327.00" x2="133.40" y2="343.60" stroke="#00C000" stroke-width="1.6" stroke-linecap="butt"/>
<line x1="126.40" y1="327.00" x2="140.40" y2="327.00" stroke="#00C000" stroke-width="1.8" stroke-linecap="butt"/>
<line x1="126.40" y1="343.60" x2="140.40" y2="343.60" stroke="#00C000" stroke-width="1.8" stroke-linecap="butt"/>
<line x1="192.80" y1="146.00" x2="192.80" y2="192.00" stroke="#00C000" stroke-width="1.6" stroke-linecap="butt"/>
<line x1="185.80" y1="146.00" x2="199.80" y2="146.00" stroke="#00C000" stroke-width="1.8" stroke-linecap="butt"/>
<line x1="185.80" y1="192.00" x2="199.80" y2="192.00" stroke="#00C000" stroke-width="1.8" stroke-linecap="butt"/>
<line x1="252.20" y1="217.00" x2="252.20" y2="269.00" stroke="#00C000" stroke-width="1.6" stroke-linecap="butt"/>
<line x1="245.20" y1="217.00" x2="259.20" y2="217.00" stroke="#00C000" stroke-width="1.8" stroke-linecap="butt"/>
<line x1="245.20" y1="269.00" x2="259.20" y2="269.00" stroke="#00C000" stroke-width="1.8" stroke-linecap="butt"/>
<line x1="371.00" y1="268.00" x2="371.00" y2="313.00" stroke="#00C000" stroke-width="1.6" stroke-linecap="butt"/>
<line x1="364.00" y1="268.00" x2="378.00" y2="268.00" stroke="#00C000" stroke-width="1.8" stroke-linecap="butt"/>
<line x1="364.00" y1="313.00" x2="378.00" y2="313.00" stroke="#00C000" stroke-width="1.8" stroke-linecap="butt"/>
<line x1="608.00" y1="327.00" x2="608.00" y2="353.00" stroke="#00C000" stroke-width="1.6" stroke-linecap="butt"/>
<line x1="601.00" y1="327.00" x2="615.00" y2="327.00" stroke="#00C000" stroke-width="1.8" stroke-linecap="butt"/>
<line x1="601.00" y1="353.00" x2="615.00" y2="353.00" stroke="#00C000" stroke-width="1.8" stroke-linecap="butt"/>
<polyline points="133.40,332.00 192.80,169.00 252.20,243.00 371.00,290.00 608.00,340.00" fill="none" stroke="#00C000" stroke-width="3.2" stroke-linejoin="round"/>
<path d="M133.40 339.20 L140.70 324.90 L126.10 324.90 Z" fill="#00C000"/>
<path d="M192.80 176.20 L200.10 161.90 L185.50 161.90 Z" fill="#00C000"/>
<path d="M252.20 250.20 L259.50 235.90 L244.90 235.90 Z" fill="#00C000"/>
<path d="M371.00 297.20 L378.30 282.90 L363.70 282.90 Z" fill="#00C000"/>
<path d="M608.00 347.20 L615.30 332.90 L600.70 332.90 Z" fill="#00C000"/>
<line x1="133.40" y1="271.00" x2="133.40" y2="299.00" stroke="#FF8080" stroke-width="1.6" stroke-linecap="butt"/>
<line x1="126.40" y1="271.00" x2="140.40" y2="271.00" stroke="#FF8080" stroke-width="1.8" stroke-linecap="butt"/>
<line x1="126.40" y1="299.00" x2="140.40" y2="299.00" stroke="#FF8080" stroke-width="1.8" stroke-linecap="butt"/>
<line x1="192.80" y1="134.00" x2="192.80" y2="205.70" stroke="#FF8080" stroke-width="1.6" stroke-linecap="butt"/>
<line x1="185.80" y1="134.00" x2="199.80" y2="134.00" stroke="#FF8080" stroke-width="1.8" stroke-linecap="butt"/>
<line x1="185.80" y1="205.70" x2="199.80" y2="205.70" stroke="#FF8080" stroke-width="1.8" stroke-linecap="butt"/>
<line x1="252.20" y1="184.50" x2="252.20" y2="254.00" stroke="#FF8080" stroke-width="1.6" stroke-linecap="butt"/>
<line x1="245.20" y1="184.50" x2="259.20" y2="184.50" stroke="#FF8080" stroke-width="1.8" stroke-linecap="butt"/>
<line x1="245.20" y1="254.00" x2="259.20" y2="254.00" stroke="#FF8080" stroke-width="1.8" stroke-linecap="butt"/>
<line x1="371.00" y1="254.40" x2="371.00" y2="290.40" stroke="#FF8080" stroke-width="1.6" stroke-linecap="butt"/>
<line x1="364.00" y1="254.40" x2="378.00" y2="254.40" stroke="#FF8080" stroke-width="1.8" stroke-linecap="butt"/>
<line x1="364.00" y1="290.40" x2="378.00" y2="290.40" stroke="#FF8080" stroke-width="1.8" stroke-linecap="butt"/>
<line x1="608.00" y1="278.60" x2="608.00" y2="327.00" stroke="#FF8080" stroke-width="1.6" stroke-linecap="butt"/>
<line x1="601.00" y1="278.60" x2="615.00" y2="278.60" stroke="#FF8080" stroke-width="1.8" stroke-linecap="butt"/>
<line x1="601.00" y1="327.00" x2="615.00" y2="327.00" stroke="#FF8080" stroke-width="1.8" stroke-linecap="butt"/>
<polyline points="133.40,286.00 192.80,170.00 252.20,220.00 371.00,272.40 608.00,302.00" fill="none" stroke="#FF8080" stroke-width="3.2" stroke-linejoin="round"/>
<path d="M133.40 279.20 L140.70 293.50 L126.10 293.50 Z" fill="#FF8080"/>
<path d="M192.80 163.20 L200.10 177.50 L185.50 177.50 Z" fill="#FF8080"/>
<path d="M252.20 213.20 L259.50 227.50 L244.90 227.50 Z" fill="#FF8080"/>
<path d="M371.00 265.60 L378.30 279.90 L363.70 279.90 Z" fill="#FF8080"/>
<path d="M608.00 295.20 L615.30 309.50 L600.70 309.50 Z" fill="#FF8080"/>
<line x1="192.80" y1="138.60" x2="192.80" y2="237.40" stroke="#DC8AF9" stroke-width="1.6" stroke-linecap="butt"/>
<line x1="185.80" y1="138.60" x2="199.80" y2="138.60" stroke="#DC8AF9" stroke-width="1.8" stroke-linecap="butt"/>
<line x1="185.80" y1="237.40" x2="199.80" y2="237.40" stroke="#DC8AF9" stroke-width="1.8" stroke-linecap="butt"/>
<line x1="252.20" y1="212.40" x2="252.20" y2="340.00" stroke="#DC8AF9" stroke-width="1.6" stroke-linecap="butt"/>
<line x1="245.20" y1="212.40" x2="259.20" y2="212.40" stroke="#DC8AF9" stroke-width="1.8" stroke-linecap="butt"/>
<line x1="245.20" y1="340.00" x2="259.20" y2="340.00" stroke="#DC8AF9" stroke-width="1.8" stroke-linecap="butt"/>
<line x1="371.00" y1="307.60" x2="371.00" y2="356.00" stroke="#DC8AF9" stroke-width="1.6" stroke-linecap="butt"/>
<line x1="364.00" y1="307.60" x2="378.00" y2="307.60" stroke="#DC8AF9" stroke-width="1.8" stroke-linecap="butt"/>
<line x1="364.00" y1="356.00" x2="378.00" y2="356.00" stroke="#DC8AF9" stroke-width="1.8" stroke-linecap="butt"/>
<line x1="608.00" y1="346.00" x2="608.00" y2="362.00" stroke="#DC8AF9" stroke-width="1.6" stroke-linecap="butt"/>
<line x1="601.00" y1="346.00" x2="615.00" y2="346.00" stroke="#DC8AF9" stroke-width="1.8" stroke-linecap="butt"/>
<line x1="601.00" y1="362.00" x2="615.00" y2="362.00" stroke="#DC8AF9" stroke-width="1.8" stroke-linecap="butt"/>
<polyline points="133.40,385.00 192.80,188.00 252.20,275.00 371.00,331.00 608.00,354.00" fill="none" stroke="#DC8AF9" stroke-width="3.2" stroke-linejoin="round"/>
<rect x="126.10" y="377.70" width="14.60" height="14.60" fill="#DC8AF9"/>
<rect x="185.50" y="180.70" width="14.60" height="14.60" fill="#DC8AF9"/>
<rect x="244.90" y="267.70" width="14.60" height="14.60" fill="#DC8AF9"/>
<rect x="363.70" y="323.70" width="14.60" height="14.60" fill="#DC8AF9"/>
<rect x="600.70" y="346.70" width="14.60" height="14.60" fill="#DC8AF9"/>
<line x1="192.80" y1="191.60" x2="192.80" y2="284.40" stroke="#589FFD" stroke-width="1.6" stroke-linecap="butt"/>
<line x1="185.80" y1="191.60" x2="199.80" y2="191.60" stroke="#589FFD" stroke-width="1.8" stroke-linecap="butt"/>
<line x1="185.80" y1="284.40" x2="199.80" y2="284.40" stroke="#589FFD" stroke-width="1.8" stroke-linecap="butt"/>
<line x1="252.20" y1="280.60" x2="252.20" y2="325.40" stroke="#589FFD" stroke-width="1.6" stroke-linecap="butt"/>
<line x1="245.20" y1="280.60" x2="259.20" y2="280.60" stroke="#589FFD" stroke-width="1.8" stroke-linecap="butt"/>
<line x1="245.20" y1="325.40" x2="259.20" y2="325.40" stroke="#589FFD" stroke-width="1.8" stroke-linecap="butt"/>
<line x1="371.00" y1="325.00" x2="371.00" y2="343.60" stroke="#589FFD" stroke-width="1.6" stroke-linecap="butt"/>
<line x1="364.00" y1="325.00" x2="378.00" y2="325.00" stroke="#589FFD" stroke-width="1.8" stroke-linecap="butt"/>
<line x1="364.00" y1="343.60" x2="378.00" y2="343.60" stroke="#589FFD" stroke-width="1.8" stroke-linecap="butt"/>
<line x1="608.00" y1="355.00" x2="608.00" y2="377.00" stroke="#589FFD" stroke-width="1.6" stroke-linecap="butt"/>
<line x1="601.00" y1="355.00" x2="615.00" y2="355.00" stroke="#589FFD" stroke-width="1.8" stroke-linecap="butt"/>
<line x1="601.00" y1="377.00" x2="615.00" y2="377.00" stroke="#589FFD" stroke-width="1.8" stroke-linecap="butt"/>
<polyline points="133.40,394.00 192.80,238.00 252.20,303.00 371.00,334.40 608.00,366.00" fill="none" stroke="#589FFD" stroke-width="3.2" stroke-linejoin="round"/>
<ellipse cx="133.40" cy="394.00" rx="7.30" ry="7.60" fill="#589FFD"/>
<ellipse cx="192.80" cy="238.00" rx="7.30" ry="7.60" fill="#589FFD"/>
<ellipse cx="252.20" cy="303.00" rx="7.30" ry="7.60" fill="#589FFD"/>
<ellipse cx="371.00" cy="334.40" rx="7.30" ry="7.60" fill="#589FFD"/>
<ellipse cx="608.00" cy="366.00" rx="7.30" ry="7.60" fill="#589FFD"/>
<text transform="translate(128.30 265.58)" font-size="26.6" text-anchor="middle" fill="#1c1c1c" stroke="#1c1c1c" stroke-width="0.15">***</text>
<text transform="translate(194.00 132.48)" font-size="26.6" text-anchor="middle" fill="#1c1c1c" stroke="#1c1c1c" stroke-width="0.15">***</text>
<text transform="translate(254.00 185.68)" font-size="26.6" text-anchor="middle" fill="#1c1c1c" stroke="#1c1c1c" stroke-width="0.15">***</text>
<text transform="translate(372.50 255.78)" font-size="26.6" text-anchor="middle" fill="#1c1c1c" stroke="#1c1c1c" stroke-width="0.15">**</text>
<text transform="translate(608.70 278.78)" font-size="26.6" text-anchor="middle" fill="#1c1c1c" stroke="#1c1c1c" stroke-width="0.15">**</text>
<text transform="translate(132.50 423.00) scale(0.9020 1.0000)" font-size="25.5" text-anchor="middle" fill="#1c1c1c">#</text>
<line x1="437.10" y1="26.05" x2="473.90" y2="26.05" stroke="#589FFD" stroke-width="3.2" stroke-linecap="butt"/>
<ellipse cx="455.50" cy="26.05" rx="7.30" ry="7.60" fill="#589FFD"/>
<text transform="translate(496.00 35.30) scale(0.9134 1.0000)" font-size="29.5" text-anchor="start" fill="#000">LFD</text>
<line x1="437.10" y1="75.70" x2="473.90" y2="75.70" stroke="#DC8AF9" stroke-width="3.2" stroke-linecap="butt"/>
<rect x="448.20" y="68.40" width="14.60" height="14.60" fill="#DC8AF9"/>
<text transform="translate(496.00 85.30) scale(0.9134 1.0000)" font-size="29.5" text-anchor="start" fill="#000">LFD+CRD</text>
<line x1="437.10" y1="125.30" x2="473.90" y2="125.30" stroke="#FF8080" stroke-width="3.2" stroke-linecap="butt"/>
<path d="M455.50 118.50 L462.80 132.80 L448.20 132.80 Z" fill="#FF8080"/>
<text transform="translate(496.00 134.70) scale(0.9244 1.0000)" font-size="29.5" text-anchor="start" fill="#000">HFD</text>
<line x1="437.10" y1="174.90" x2="473.90" y2="174.90" stroke="#00C000" stroke-width="3.2" stroke-linecap="butt"/>
<path d="M455.50 182.10 L462.80 167.80 L448.20 167.80 Z" fill="#00C000"/>
<text transform="translate(496.00 184.30) scale(0.9244 1.0000)" font-size="29.5" text-anchor="start" fill="#000">HFD+CRD</text>
<line x1="95.00" y1="640.00" x2="95.00" y2="988.50" stroke="#000" stroke-width="3" stroke-linecap="butt"/>
<line x1="80.00" y1="987.00" x2="613.80" y2="987.00" stroke="#000" stroke-width="3" stroke-linecap="butt"/>
<line x1="80.00" y1="987.00" x2="95.00" y2="987.00" stroke="#000" stroke-width="3" stroke-linecap="butt"/>
<text transform="translate(76.50 997.70)" font-size="28.8" font-weight="bold" text-anchor="end" fill="#000">0</text>
<line x1="80.00" y1="871.80" x2="95.00" y2="871.80" stroke="#000" stroke-width="3" stroke-linecap="butt"/>
<text transform="translate(76.50 882.50)" font-size="28.8" font-weight="bold" text-anchor="end" fill="#000">5</text>
<line x1="80.00" y1="756.60" x2="95.00" y2="756.60" stroke="#000" stroke-width="3" stroke-linecap="butt"/>
<text transform="translate(76.50 767.30)" font-size="28.8" font-weight="bold" text-anchor="end" fill="#000">10</text>
<line x1="80.00" y1="641.40" x2="95.00" y2="641.40" stroke="#000" stroke-width="3" stroke-linecap="butt"/>
<text transform="translate(76.50 652.10)" font-size="28.8" font-weight="bold" text-anchor="end" fill="#000">15</text>
<line x1="133.60" y1="987.00" x2="133.60" y2="1002.50" stroke="#000" stroke-width="3" stroke-linecap="butt"/>
<text transform="translate(133.60 1033.70)" font-size="28.8" font-weight="bold" text-anchor="middle" fill="#000">0</text>
<line x1="253.00" y1="987.00" x2="253.00" y2="1002.50" stroke="#000" stroke-width="3" stroke-linecap="butt"/>
<text transform="translate(253.00 1033.70)" font-size="28.8" font-weight="bold" text-anchor="middle" fill="#000">30</text>
<line x1="372.80" y1="987.00" x2="372.80" y2="1002.50" stroke="#000" stroke-width="3" stroke-linecap="butt"/>
<text transform="translate(372.80 1033.70)" font-size="28.8" font-weight="bold" text-anchor="middle" fill="#000">60</text>
<line x1="492.50" y1="987.00" x2="492.50" y2="1002.50" stroke="#000" stroke-width="3" stroke-linecap="butt"/>
<text transform="translate(492.50 1033.70)" font-size="28.8" font-weight="bold" text-anchor="middle" fill="#000">90</text>
<line x1="612.30" y1="987.00" x2="612.30" y2="1002.50" stroke="#000" stroke-width="3" stroke-linecap="butt"/>
<text transform="translate(612.80 1033.70)" font-size="28.8" font-weight="bold" text-anchor="middle" fill="#000">120</text>
<line x1="193.30" y1="987.00" x2="193.30" y2="996.50" stroke="#000" stroke-width="3" stroke-linecap="butt"/>
<line x1="312.90" y1="987.00" x2="312.90" y2="996.50" stroke="#000" stroke-width="3" stroke-linecap="butt"/>
<line x1="432.60" y1="987.00" x2="432.60" y2="996.50" stroke="#000" stroke-width="3" stroke-linecap="butt"/>
<line x1="552.40" y1="987.00" x2="552.40" y2="996.50" stroke="#000" stroke-width="3" stroke-linecap="butt"/>
<text transform="translate(353.20 1074.40) scale(0.9676 1.0800)" font-size="28.5" font-weight="bold" text-anchor="middle" fill="#000">Time (min)</text>
<text transform="translate(31.00 813.40) rotate(-90) scale(1.0000 0.9700)" font-size="28.4" font-weight="bold" text-anchor="middle" fill="#000">Body glucose level (mmol/L)</text>
<text transform="translate(21.60 617.20) scale(0.9164 1.0000)" font-size="34" font-weight="bold" text-anchor="start" fill="#000">D</text>
<line x1="133.60" y1="840.00" x2="133.60" y2="869.00" stroke="#00C000" stroke-width="1.6" stroke-linecap="butt"/>
<line x1="126.60" y1="840.00" x2="140.60" y2="840.00" stroke="#00C000" stroke-width="1.8" stroke-linecap="butt"/>
<line x1="126.60" y1="869.00" x2="140.60" y2="869.00" stroke="#00C000" stroke-width="1.8" stroke-linecap="butt"/>
<line x1="193.30" y1="857.00" x2="193.30" y2="906.30" stroke="#00C000" stroke-width="1.6" stroke-linecap="butt"/>
<line x1="186.30" y1="857.00" x2="200.30" y2="857.00" stroke="#00C000" stroke-width="1.8" stroke-linecap="butt"/>
<line x1="186.30" y1="906.30" x2="200.30" y2="906.30" stroke="#00C000" stroke-width="1.8" stroke-linecap="butt"/>
<line x1="253.00" y1="890.30" x2="253.00" y2="943.00" stroke="#00C000" stroke-width="1.6" stroke-linecap="butt"/>
<line x1="246.00" y1="890.30" x2="260.00" y2="890.30" stroke="#00C000" stroke-width="1.8" stroke-linecap="butt"/>
<line x1="246.00" y1="943.00" x2="260.00" y2="943.00" stroke="#00C000" stroke-width="1.8" stroke-linecap="butt"/>
<line x1="372.80" y1="912.00" x2="372.80" y2="931.50" stroke="#00C000" stroke-width="1.6" stroke-linecap="butt"/>
<line x1="365.80" y1="912.00" x2="379.80" y2="912.00" stroke="#00C000" stroke-width="1.8" stroke-linecap="butt"/>
<line x1="365.80" y1="931.50" x2="379.80" y2="931.50" stroke="#00C000" stroke-width="1.8" stroke-linecap="butt"/>
<line x1="612.30" y1="888.00" x2="612.30" y2="927.60" stroke="#00C000" stroke-width="1.6" stroke-linecap="butt"/>
<line x1="605.30" y1="888.00" x2="619.30" y2="888.00" stroke="#00C000" stroke-width="1.8" stroke-linecap="butt"/>
<line x1="605.30" y1="927.60" x2="619.30" y2="927.60" stroke="#00C000" stroke-width="1.8" stroke-linecap="butt"/>
<polyline points="133.60,853.00 193.30,880.00 253.00,917.00 372.80,920.00 612.30,906.00" fill="none" stroke="#00C000" stroke-width="3.2" stroke-linejoin="round"/>
<path d="M133.60 860.20 L140.90 845.90 L126.30 845.90 Z" fill="#00C000"/>
<path d="M193.30 887.20 L200.60 872.90 L186.00 872.90 Z" fill="#00C000"/>
<path d="M253.00 924.20 L260.30 909.90 L245.70 909.90 Z" fill="#00C000"/>
<path d="M372.80 927.20 L380.10 912.90 L365.50 912.90 Z" fill="#00C000"/>
<path d="M612.30 913.20 L619.60 898.90 L605.00 898.90 Z" fill="#00C000"/>
<line x1="133.60" y1="765.20" x2="133.60" y2="809.00" stroke="#FF8080" stroke-width="1.6" stroke-linecap="butt"/>
<line x1="126.60" y1="765.20" x2="140.60" y2="765.20" stroke="#FF8080" stroke-width="1.8" stroke-linecap="butt"/>
<line x1="126.60" y1="809.00" x2="140.60" y2="809.00" stroke="#FF8080" stroke-width="1.8" stroke-linecap="butt"/>
<line x1="193.30" y1="755.40" x2="193.30" y2="850.00" stroke="#FF8080" stroke-width="1.6" stroke-linecap="butt"/>
<line x1="186.30" y1="755.40" x2="200.30" y2="755.40" stroke="#FF8080" stroke-width="1.8" stroke-linecap="butt"/>
<line x1="186.30" y1="850.00" x2="200.30" y2="850.00" stroke="#FF8080" stroke-width="1.8" stroke-linecap="butt"/>
<line x1="253.00" y1="821.00" x2="253.00" y2="872.00" stroke="#FF8080" stroke-width="1.6" stroke-linecap="butt"/>
<line x1="246.00" y1="821.00" x2="260.00" y2="821.00" stroke="#FF8080" stroke-width="1.8" stroke-linecap="butt"/>
<line x1="246.00" y1="872.00" x2="260.00" y2="872.00" stroke="#FF8080" stroke-width="1.8" stroke-linecap="butt"/>
<line x1="372.80" y1="825.00" x2="372.80" y2="868.50" stroke="#FF8080" stroke-width="1.6" stroke-linecap="butt"/>
<line x1="365.80" y1="825.00" x2="379.80" y2="825.00" stroke="#FF8080" stroke-width="1.8" stroke-linecap="butt"/>
<line x1="365.80" y1="868.50" x2="379.80" y2="868.50" stroke="#FF8080" stroke-width="1.8" stroke-linecap="butt"/>
<line x1="612.30" y1="810.40" x2="612.30" y2="877.00" stroke="#FF8080" stroke-width="1.6" stroke-linecap="butt"/>
<line x1="605.30" y1="810.40" x2="619.30" y2="810.40" stroke="#FF8080" stroke-width="1.8" stroke-linecap="butt"/>
<line x1="605.30" y1="877.00" x2="619.30" y2="877.00" stroke="#FF8080" stroke-width="1.8" stroke-linecap="butt"/>
<polyline points="133.60,789.00 193.30,803.00 253.00,848.00 372.80,848.00 612.30,845.00" fill="none" stroke="#FF8080" stroke-width="3.2" stroke-linejoin="round"/>
<path d="M133.60 782.20 L140.90 796.50 L126.30 796.50 Z" fill="#FF8080"/>
<path d="M193.30 796.20 L200.60 810.50 L186.00 810.50 Z" fill="#FF8080"/>
<path d="M253.00 841.20 L260.30 855.50 L245.70 855.50 Z" fill="#FF8080"/>
<path d="M372.80 841.20 L380.10 855.50 L365.50 855.50 Z" fill="#FF8080"/>
<path d="M612.30 838.20 L619.60 852.50 L605.00 852.50 Z" fill="#FF8080"/>
<line x1="133.60" y1="899.00" x2="133.60" y2="921.00" stroke="#DC8AF9" stroke-width="1.6" stroke-linecap="butt"/>
<line x1="126.60" y1="899.00" x2="140.60" y2="899.00" stroke="#DC8AF9" stroke-width="1.8" stroke-linecap="butt"/>
<line x1="126.60" y1="921.00" x2="140.60" y2="921.00" stroke="#DC8AF9" stroke-width="1.8" stroke-linecap="butt"/>
<line x1="193.30" y1="925.00" x2="193.30" y2="942.00" stroke="#DC8AF9" stroke-width="1.6" stroke-linecap="butt"/>
<line x1="186.30" y1="925.00" x2="200.30" y2="925.00" stroke="#DC8AF9" stroke-width="1.8" stroke-linecap="butt"/>
<line x1="186.30" y1="942.00" x2="200.30" y2="942.00" stroke="#DC8AF9" stroke-width="1.8" stroke-linecap="butt"/>
<line x1="253.00" y1="938.00" x2="253.00" y2="954.00" stroke="#DC8AF9" stroke-width="1.6" stroke-linecap="butt"/>
<line x1="246.00" y1="938.00" x2="260.00" y2="938.00" stroke="#DC8AF9" stroke-width="1.8" stroke-linecap="butt"/>
<line x1="246.00" y1="954.00" x2="260.00" y2="954.00" stroke="#DC8AF9" stroke-width="1.8" stroke-linecap="butt"/>
<line x1="372.80" y1="950.00" x2="372.80" y2="967.00" stroke="#DC8AF9" stroke-width="1.6" stroke-linecap="butt"/>
<line x1="365.80" y1="950.00" x2="379.80" y2="950.00" stroke="#DC8AF9" stroke-width="1.8" stroke-linecap="butt"/>
<line x1="365.80" y1="967.00" x2="379.80" y2="967.00" stroke="#DC8AF9" stroke-width="1.8" stroke-linecap="butt"/>
<line x1="612.30" y1="939.40" x2="612.30" y2="967.00" stroke="#DC8AF9" stroke-width="1.6" stroke-linecap="butt"/>
<line x1="605.30" y1="939.40" x2="619.30" y2="939.40" stroke="#DC8AF9" stroke-width="1.8" stroke-linecap="butt"/>
<line x1="605.30" y1="967.00" x2="619.30" y2="967.00" stroke="#DC8AF9" stroke-width="1.8" stroke-linecap="butt"/>
<polyline points="133.60,910.00 193.30,933.50 253.00,946.00 372.80,958.00 612.30,953.50" fill="none" stroke="#DC8AF9" stroke-width="3.2" stroke-linejoin="round"/>
<rect x="126.30" y="902.70" width="14.60" height="14.60" fill="#DC8AF9"/>
<rect x="186.00" y="926.20" width="14.60" height="14.60" fill="#DC8AF9"/>
<rect x="245.70" y="938.70" width="14.60" height="14.60" fill="#DC8AF9"/>
<rect x="365.50" y="950.70" width="14.60" height="14.60" fill="#DC8AF9"/>
<rect x="605.00" y="946.20" width="14.60" height="14.60" fill="#DC8AF9"/>
<line x1="133.60" y1="886.00" x2="133.60" y2="901.00" stroke="#589FFD" stroke-width="1.6" stroke-linecap="butt"/>
<line x1="126.60" y1="886.00" x2="140.60" y2="886.00" stroke="#589FFD" stroke-width="1.8" stroke-linecap="butt"/>
<line x1="126.60" y1="901.00" x2="140.60" y2="901.00" stroke="#589FFD" stroke-width="1.8" stroke-linecap="butt"/>
<line x1="193.30" y1="898.30" x2="193.30" y2="948.20" stroke="#589FFD" stroke-width="1.6" stroke-linecap="butt"/>
<line x1="186.30" y1="898.30" x2="200.30" y2="898.30" stroke="#589FFD" stroke-width="1.8" stroke-linecap="butt"/>
<line x1="186.30" y1="948.20" x2="200.30" y2="948.20" stroke="#589FFD" stroke-width="1.8" stroke-linecap="butt"/>
<line x1="253.00" y1="904.30" x2="253.00" y2="967.40" stroke="#589FFD" stroke-width="1.6" stroke-linecap="butt"/>
<line x1="246.00" y1="904.30" x2="260.00" y2="904.30" stroke="#589FFD" stroke-width="1.8" stroke-linecap="butt"/>
<line x1="246.00" y1="967.40" x2="260.00" y2="967.40" stroke="#589FFD" stroke-width="1.8" stroke-linecap="butt"/>
<line x1="372.80" y1="886.00" x2="372.80" y2="959.00" stroke="#589FFD" stroke-width="1.6" stroke-linecap="butt"/>
<line x1="365.80" y1="886.00" x2="379.80" y2="886.00" stroke="#589FFD" stroke-width="1.8" stroke-linecap="butt"/>
<line x1="365.80" y1="959.00" x2="379.80" y2="959.00" stroke="#589FFD" stroke-width="1.8" stroke-linecap="butt"/>
<line x1="612.30" y1="840.30" x2="612.30" y2="922.30" stroke="#589FFD" stroke-width="1.6" stroke-linecap="butt"/>
<line x1="605.30" y1="840.30" x2="619.30" y2="840.30" stroke="#589FFD" stroke-width="1.8" stroke-linecap="butt"/>
<line x1="605.30" y1="922.30" x2="619.30" y2="922.30" stroke="#589FFD" stroke-width="1.8" stroke-linecap="butt"/>
<polyline points="133.60,893.50 193.30,923.50 253.00,937.00 372.80,922.40 612.30,881.50" fill="none" stroke="#589FFD" stroke-width="3.2" stroke-linejoin="round"/>
<ellipse cx="133.60" cy="893.50" rx="7.30" ry="7.60" fill="#589FFD"/>
<ellipse cx="193.30" cy="923.50" rx="7.30" ry="7.60" fill="#589FFD"/>
<ellipse cx="253.00" cy="937.00" rx="7.30" ry="7.60" fill="#589FFD"/>
<ellipse cx="372.80" cy="922.40" rx="7.30" ry="7.60" fill="#589FFD"/>
<ellipse cx="612.30" cy="881.50" rx="7.30" ry="7.60" fill="#589FFD"/>
<text transform="translate(134.00 765.18)" font-size="26.6" text-anchor="middle" fill="#1c1c1c" stroke="#1c1c1c" stroke-width="0.15">***</text>
<text transform="translate(194.60 755.18)" font-size="26.6" text-anchor="middle" fill="#1c1c1c" stroke="#1c1c1c" stroke-width="0.15">***</text>
<text transform="translate(251.90 822.18)" font-size="26.6" text-anchor="middle" fill="#1c1c1c" stroke="#1c1c1c" stroke-width="0.15">***</text>
<text transform="translate(373.80 827.18)" font-size="26.6" text-anchor="middle" fill="#1c1c1c" stroke="#1c1c1c" stroke-width="0.15">***</text>
<text transform="translate(612.60 811.58)" font-size="26.6" text-anchor="middle" fill="#1c1c1c" stroke="#1c1c1c" stroke-width="0.15">*</text>
<text transform="translate(135.10 943.60) scale(0.9987 1.0000)" font-size="25.5" text-anchor="middle" fill="#1c1c1c">###</text>
<text transform="translate(195.50 970.60) scale(0.9987 1.0000)" font-size="25.5" text-anchor="middle" fill="#1c1c1c">###</text>
<text transform="translate(251.70 987.00) scale(0.9987 1.0000)" font-size="25.5" text-anchor="middle" fill="#1c1c1c">###</text>
<text transform="translate(372.50 987.50) scale(0.9987 1.0000)" font-size="25.5" text-anchor="middle" fill="#1c1c1c">###</text>
<text transform="translate(614.50 988.00) scale(0.9987 1.0000)" font-size="25.5" text-anchor="middle" fill="#1c1c1c">###</text>
<line x1="419.60" y1="608.00" x2="456.70" y2="608.00" stroke="#589FFD" stroke-width="3.2" stroke-linecap="butt"/>
<ellipse cx="438.15" cy="608.00" rx="7.30" ry="7.60" fill="#589FFD"/>
<text transform="translate(478.50 617.10) scale(0.9246 1.0000)" font-size="29.5" text-anchor="start" fill="#000">LFD</text>
<line x1="419.60" y1="653.30" x2="456.70" y2="653.30" stroke="#DC8AF9" stroke-width="3.2" stroke-linecap="butt"/>
<rect x="430.85" y="646.00" width="14.60" height="14.60" fill="#DC8AF9"/>
<text transform="translate(478.50 662.60) scale(0.9246 1.0000)" font-size="29.5" text-anchor="start" fill="#000">LFD+CRD</text>
<line x1="419.60" y1="699.00" x2="456.70" y2="699.00" stroke="#FF8080" stroke-width="3.2" stroke-linecap="butt"/>
<path d="M438.15 692.20 L445.45 706.50 L430.85 706.50 Z" fill="#FF8080"/>
<text transform="translate(478.50 708.00) scale(0.9361 1.0000)" font-size="29.5" text-anchor="start" fill="#000">HFD</text>
<line x1="419.60" y1="744.30" x2="456.70" y2="744.30" stroke="#00C000" stroke-width="3.2" stroke-linecap="butt"/>
<path d="M438.15 751.50 L445.45 737.20 L430.85 737.20 Z" fill="#00C000"/>
<text transform="translate(478.50 753.40) scale(0.9361 1.0000)" font-size="29.5" text-anchor="start" fill="#000">HFD+CRD</text>
<line x1="830.20" y1="52.00" x2="830.20" y2="429.90" stroke="#000" stroke-width="3" stroke-linecap="butt"/>
<line x1="815.20" y1="428.40" x2="1179.70" y2="428.40" stroke="#000" stroke-width="3" stroke-linecap="butt"/>
<line x1="815.20" y1="428.40" x2="830.20" y2="428.40" stroke="#000" stroke-width="3" stroke-linecap="butt"/>
<text transform="translate(811.70 439.70)" font-size="28.8" font-weight="bold" text-anchor="end" fill="#000">0</text>
<line x1="815.20" y1="334.70" x2="830.20" y2="334.70" stroke="#000" stroke-width="3" stroke-linecap="butt"/>
<text transform="translate(811.70 346.00)" font-size="28.8" font-weight="bold" text-anchor="end" fill="#000">500</text>
<line x1="815.20" y1="241.00" x2="830.20" y2="241.00" stroke="#000" stroke-width="3" stroke-linecap="butt"/>
<text transform="translate(811.70 252.30)" font-size="28.8" font-weight="bold" text-anchor="end" fill="#000">1000</text>
<line x1="815.20" y1="147.30" x2="830.20" y2="147.30" stroke="#000" stroke-width="3" stroke-linecap="butt"/>
<text transform="translate(811.70 158.60)" font-size="28.8" font-weight="bold" text-anchor="end" fill="#000">1500</text>
<line x1="815.20" y1="53.60" x2="830.20" y2="53.60" stroke="#000" stroke-width="3" stroke-linecap="butt"/>
<text transform="translate(811.70 64.90)" font-size="28.8" font-weight="bold" text-anchor="end" fill="#000">2000</text>
<line x1="883.85" y1="258.50" x2="883.85" y2="276.50" stroke="#589FFD" stroke-width="1.8" stroke-linecap="butt"/>
<line x1="870.65" y1="258.50" x2="897.05" y2="258.50" stroke="#589FFD" stroke-width="2" stroke-linecap="butt"/>
<rect x="857.40" y="275.50" width="52.90" height="151.40" fill="#589FFD"/>
<line x1="963.95" y1="211.20" x2="963.95" y2="252.50" stroke="#DC8AF9" stroke-width="1.8" stroke-linecap="butt"/>
<line x1="950.75" y1="211.20" x2="977.15" y2="211.20" stroke="#DC8AF9" stroke-width="2" stroke-linecap="butt"/>
<rect x="936.90" y="251.50" width="54.10" height="175.40" fill="#DC8AF9"/>
<line x1="1044.65" y1="135.20" x2="1044.65" y2="167.50" stroke="#FF8080" stroke-width="1.8" stroke-linecap="butt"/>
<line x1="1031.45" y1="135.20" x2="1057.85" y2="135.20" stroke="#FF8080" stroke-width="2" stroke-linecap="butt"/>
<rect x="1017.90" y="166.50" width="53.50" height="260.40" fill="#FF8080"/>
<line x1="1124.55" y1="175.90" x2="1124.55" y2="205.90" stroke="#00C000" stroke-width="1.8" stroke-linecap="butt"/>
<line x1="1111.35" y1="175.90" x2="1137.75" y2="175.90" stroke="#00C000" stroke-width="2" stroke-linecap="butt"/>
<rect x="1097.40" y="204.90" width="54.30" height="222.00" fill="#00C000"/>
<text transform="translate(885.70 252.30) scale(1.0000 1.0500)" font-size="33" text-anchor="middle" fill="#000">c</text>
<text transform="translate(965.40 204.30) scale(1.0000 1.0500)" font-size="33" text-anchor="middle" fill="#000">c</text>
<text transform="translate(1045.50 127.60) scale(1.0000 1.0500)" font-size="33" text-anchor="middle" fill="#000">a</text>
<text transform="translate(1126.40 171.00) scale(1.0000 1.0500)" font-size="33" text-anchor="middle" fill="#000">b</text>
<line x1="883.40" y1="428.40" x2="883.40" y2="444.40" stroke="#000" stroke-width="3" stroke-linecap="butt"/>
<text transform="translate(893.40 471.40) scale(1.0000 1.0870) rotate(-45)" font-size="28.9" font-weight="bold" text-anchor="end" fill="#000">LFD</text>
<line x1="964.00" y1="428.40" x2="964.00" y2="444.40" stroke="#000" stroke-width="3" stroke-linecap="butt"/>
<text transform="translate(973.90 471.40) scale(1.0000 1.0870) rotate(-45)" font-size="28.9" font-weight="bold" text-anchor="end" fill="#000">LFD+CRD</text>
<line x1="1043.80" y1="428.40" x2="1043.80" y2="444.40" stroke="#000" stroke-width="3" stroke-linecap="butt"/>
<text transform="translate(1053.40 471.40) scale(1.0000 1.0870) rotate(-45)" font-size="28.9" font-weight="bold" text-anchor="end" fill="#000">HFD</text>
<line x1="1124.40" y1="428.40" x2="1124.40" y2="444.40" stroke="#000" stroke-width="3" stroke-linecap="butt"/>
<text transform="translate(1134.40 471.40) scale(1.0000 1.0870) rotate(-45)" font-size="28.9" font-weight="bold" text-anchor="end" fill="#000">HFD+CRD</text>
<text transform="translate(700.00 240.00) rotate(-90) scale(1.0000 0.9300)" font-size="30.7" font-weight="bold" text-anchor="middle" fill="#000">Area under the curve</text>
<text transform="translate(736.00 240.00) rotate(-90) scale(1.0000 0.9300)" font-size="30.7" font-weight="bold" text-anchor="middle" fill="#000">of blood glucose</text>
<text transform="translate(722.50 36.80) scale(0.8462 1.0000)" font-size="36.5" font-weight="bold" text-anchor="start" fill="#000">B</text>
<line x1="1341.40" y1="63.00" x2="1341.40" y2="425.10" stroke="#000" stroke-width="3" stroke-linecap="butt"/>
<line x1="1326.40" y1="423.60" x2="1678.00" y2="423.60" stroke="#000" stroke-width="3" stroke-linecap="butt"/>
<line x1="1326.40" y1="423.60" x2="1341.40" y2="423.60" stroke="#000" stroke-width="3" stroke-linecap="butt"/>
<text transform="translate(1322.90 434.90)" font-size="28.8" font-weight="bold" text-anchor="end" fill="#000">0</text>
<line x1="1326.40" y1="303.90" x2="1341.40" y2="303.90" stroke="#000" stroke-width="3" stroke-linecap="butt"/>
<text transform="translate(1322.90 315.20)" font-size="28.8" font-weight="bold" text-anchor="end" fill="#000">5</text>
<line x1="1326.40" y1="184.20" x2="1341.40" y2="184.20" stroke="#000" stroke-width="3" stroke-linecap="butt"/>
<text transform="translate(1322.90 195.50)" font-size="28.8" font-weight="bold" text-anchor="end" fill="#000">10</text>
<line x1="1326.40" y1="64.50" x2="1341.40" y2="64.50" stroke="#000" stroke-width="3" stroke-linecap="butt"/>
<text transform="translate(1322.90 75.80)" font-size="28.8" font-weight="bold" text-anchor="end" fill="#000">15</text>
<line x1="1392.95" y1="364.80" x2="1392.95" y2="369.20" stroke="#589FFD" stroke-width="1.8" stroke-linecap="butt"/>
<line x1="1379.75" y1="364.80" x2="1406.15" y2="364.80" stroke="#589FFD" stroke-width="2" stroke-linecap="butt"/>
<rect x="1367.20" y="368.20" width="51.50" height="53.90" fill="#589FFD"/>
<line x1="1471.05" y1="344.80" x2="1471.05" y2="355.80" stroke="#DC8AF9" stroke-width="1.8" stroke-linecap="butt"/>
<line x1="1457.85" y1="344.80" x2="1484.25" y2="344.80" stroke="#DC8AF9" stroke-width="2" stroke-linecap="butt"/>
<rect x="1445.10" y="354.80" width="51.90" height="67.30" fill="#DC8AF9"/>
<line x1="1548.20" y1="166.50" x2="1548.20" y2="191.50" stroke="#FF8080" stroke-width="1.8" stroke-linecap="butt"/>
<line x1="1535.00" y1="166.50" x2="1561.40" y2="166.50" stroke="#FF8080" stroke-width="2" stroke-linecap="butt"/>
<rect x="1522.20" y="190.50" width="52.00" height="231.60" fill="#FF8080"/>
<line x1="1626.50" y1="256.80" x2="1626.50" y2="272.40" stroke="#00C000" stroke-width="1.8" stroke-linecap="butt"/>
<line x1="1613.30" y1="256.80" x2="1639.70" y2="256.80" stroke="#00C000" stroke-width="2" stroke-linecap="butt"/>
<rect x="1600.30" y="271.40" width="52.40" height="150.70" fill="#00C000"/>
<text transform="translate(1393.80 359.20) scale(1.0000 1.0500)" font-size="33" text-anchor="middle" fill="#000">c</text>
<text transform="translate(1472.00 339.40) scale(1.0000 1.0500)" font-size="33" text-anchor="middle" fill="#000">c</text>
<text transform="translate(1549.40 161.50) scale(1.0000 1.0500)" font-size="33" text-anchor="middle" fill="#000">a</text>
<text transform="translate(1627.70 252.80) scale(1.0000 1.0500)" font-size="33" text-anchor="middle" fill="#000">b</text>
<line x1="1392.80" y1="423.60" x2="1392.80" y2="439.10" stroke="#000" stroke-width="3" stroke-linecap="butt"/>
<text transform="translate(1402.40 465.30) scale(1.0000 1.0870) rotate(-45)" font-size="27.7" font-weight="bold" text-anchor="end" fill="#000">LFD</text>
<line x1="1470.30" y1="423.60" x2="1470.30" y2="439.10" stroke="#000" stroke-width="3" stroke-linecap="butt"/>
<text transform="translate(1479.90 465.30) scale(1.0000 1.0870) rotate(-45)" font-size="27.7" font-weight="bold" text-anchor="end" fill="#000">LFD+CRD</text>
<line x1="1548.00" y1="423.60" x2="1548.00" y2="439.10" stroke="#000" stroke-width="3" stroke-linecap="butt"/>
<text transform="translate(1557.40 465.30) scale(1.0000 1.0870) rotate(-45)" font-size="27.7" font-weight="bold" text-anchor="end" fill="#000">HFD</text>
<line x1="1625.60" y1="423.60" x2="1625.60" y2="439.10" stroke="#000" stroke-width="3" stroke-linecap="butt"/>
<text transform="translate(1634.90 465.30) scale(1.0000 1.0870) rotate(-45)" font-size="27.7" font-weight="bold" text-anchor="end" fill="#000">HFD+CRD</text>
<text transform="translate(1246.00 243.00) rotate(-90) scale(1.0000 0.9300)" font-size="29" font-weight="bold" text-anchor="middle" fill="#000">Fasting blood</text>
<text transform="translate(1281.00 243.00) rotate(-90) scale(1.0000 0.9300)" font-size="29" font-weight="bold" text-anchor="middle" fill="#000">glucose level (mmol/L)</text>
<text transform="translate(1269.50 45.60) scale(0.8726 1.0000)" font-size="36.5" font-weight="bold" text-anchor="start" fill="#000">C</text>
<text transform="translate(731.80 618.00) scale(0.9253 1.0000)" font-size="35" font-weight="bold" text-anchor="start" fill="#000">E</text>
<path d="M1 584 V1040 M0 584 H14" stroke="#F1F1F1" stroke-width="1.5" fill="none"/>
<circle cx="776.3" cy="620" r="0.9" fill="#222"/>
</svg>
</body></html>
